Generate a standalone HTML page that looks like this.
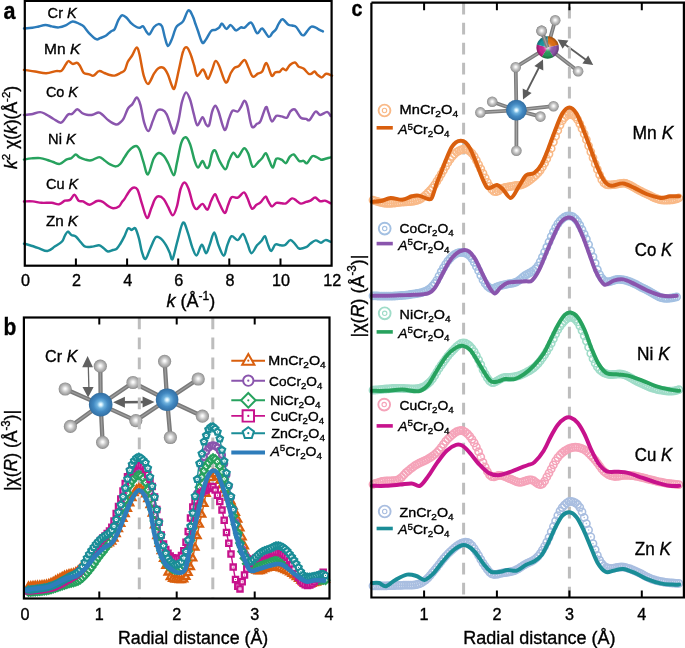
<!DOCTYPE html><html><head><meta charset="utf-8"><style>html,body{margin:0;padding:0;background:#fff;width:685px;height:648px;overflow:hidden}svg{display:block;will-change:transform}text{font-family:"Liberation Sans", sans-serif;fill:#000;stroke:#000;stroke-width:0.35px}</style></head><body>
<svg width="685" height="648" viewBox="0 0 685 648">
<defs>
<radialGradient id="gG" cx="0.5" cy="0.5" r="0.52" fx="0.5" fy="0.47">
 <stop offset="0" stop-color="#ffffff"/><stop offset="0.15" stop-color="#f4f4f4"/>
 <stop offset="0.5" stop-color="#c4c4c4"/><stop offset="0.8" stop-color="#a2a2a2"/><stop offset="1" stop-color="#808080"/></radialGradient>
<radialGradient id="gB" cx="0.5" cy="0.5" r="0.55">
 <stop offset="0" stop-color="#ffffff"/><stop offset="0.1" stop-color="#d8f3ff"/><stop offset="0.28" stop-color="#6fb2de"/>
 <stop offset="0.55" stop-color="#4289c2"/><stop offset="0.85" stop-color="#3573a8"/><stop offset="1" stop-color="#28608e"/></radialGradient>
<radialGradient id="gW" cx="0.5" cy="0.5" r="0.5">
 <stop offset="0" stop-color="#ffffff" stop-opacity="1"/><stop offset="0.1" stop-color="#ffffff" stop-opacity="0.7"/>
 <stop offset="0.35" stop-color="#ffffff" stop-opacity="0.1"/><stop offset="0.7" stop-color="#000" stop-opacity="0"/><stop offset="1" stop-color="#000" stop-opacity="0.3"/></radialGradient>
<marker id="ah" viewBox="0 0 10 10" refX="9" refY="5" markerWidth="10" markerHeight="10" markerUnits="userSpaceOnUse" orient="auto-start-reverse">
 <path d="M0 0L10 5L0 10z" fill="#5c5c5c"/></marker>
<path id="mt" d="M0 -3.7L3.4 2.3L-3.4 2.3Z"/>
<circle id="mc" r="2.9"/>
<path id="md" d="M0 -3.7L3.7 0L0 3.7L-3.7 0Z"/>
<path id="ms" d="M-2.6 -2.6H2.6V2.6H-2.6Z"/>
<path id="mp" d="M0 -3.3L3.14 -1.02L1.94 2.67L-1.94 2.67L-3.14 -1.02Z"/>
<circle id="mo" r="3.6"/>
</defs>
<rect width="685" height="648" fill="#fff"/>
<path d="M24 28.5C25.4 28.4 30 28.1 32.3 27.8C34.6 27.5 35.7 27.2 37.9 26.7C40.1 26.2 43.2 25.1 45.5 25C47.8 24.9 49.6 26 51.8 26.4C54 26.8 56.4 27.6 58.7 27.4C61 27.2 63.4 26.4 65.7 25.4C68 24.4 70.3 21.8 72.6 21.5C74.9 21.2 77.8 23.1 79.6 23.9C81.4 24.7 82.1 24.8 83.7 26.4C85.3 28 87.2 31.2 89.3 33.3C91.4 35.4 94.4 38.4 96.2 39.2C98 40 98.4 38.8 100 38.2C101.6 37.6 104 36.9 105.8 35.8C107.6 34.7 109.4 32.5 110.9 31.4C112.4 30.3 113.4 31 114.6 29.2C115.8 27.4 117 22.7 118.2 20.4C119.4 18.1 120.6 15.8 121.9 15.3C123.2 14.8 124.7 16.1 126.3 17.5C127.9 18.9 129.7 21.8 131.4 23.4C133.1 25 135.1 26.3 136.5 27C137.9 27.7 139 27.8 140.1 27.7C141.2 27.6 142 25.6 143.1 26.3C144.2 27 145.6 30.8 146.7 32.1C147.8 33.4 148.4 35.1 149.6 34.3C150.8 33.4 152.5 28.7 154 27C155.5 25.3 157.1 24.2 158.4 24.1C159.7 24 160.9 24 162 26.3C163.1 28.6 164 34.7 165 38C166 41.3 166.8 45.6 167.9 46C169 46.4 170.2 43.1 171.5 40.1C172.8 37.1 174.6 30.4 175.9 27.7C177.2 25 178.4 25.2 179.6 24.1C180.8 23 181.7 23.5 183.2 21.2C184.7 18.9 186.8 11.2 188.4 10.3C190 9.5 191.5 13.8 192.7 16.1C193.9 18.4 194.6 21.5 195.5 24C196.4 26.5 196.9 27.9 198 31C199.1 34.1 201 41.2 202.3 42.6C203.6 44 204.5 41.3 206 39.4C207.5 37.5 209.5 32.6 211.1 31C212.7 29.4 214.1 30.4 215.4 29.9C216.7 29.3 218 28.8 219.1 27.7C220.2 26.6 220.8 23.4 222 23.6C223.2 23.8 224.9 28.6 226.4 28.9C227.9 29.1 229.2 24.9 230.8 25.1C232.4 25.4 234.2 30 235.9 30.4C237.6 30.8 239.6 27.8 241 27.3C242.4 26.9 242.9 28.5 244.6 27.7C246.3 26.9 249.1 21.7 251.2 22.6C253.3 23.5 255.2 32.3 257 33.3C258.8 34.3 260.2 27.9 262.2 28.5C264.1 29.1 267 36.1 268.7 36.8C270.4 37.5 271.2 34.1 272.4 32.8C273.6 31.5 274.9 30.8 276 29.2C277.1 27.6 277.8 25 278.9 23.4C280 21.8 281 19.1 282.6 19.3C284.2 19.5 286.8 23.8 288.4 24.8C290 25.8 290.8 25.1 292.1 25.5C293.4 25.9 294.7 25.5 296.2 27C297.7 28.5 300 33 301.3 34.3C302.6 35.6 303 35.9 304.2 35C305.4 34.1 307.4 30.6 308.6 29.2C309.8 27.8 310.3 26.9 311.5 26.6C312.7 26.4 314.5 27.1 315.9 27.7C317.2 28.2 318.4 29.3 319.6 29.9C320.8 30.5 322.3 31.1 322.9 31.4" fill="none" stroke="#2b7bba" stroke-width="2.45" stroke-linejoin="round" stroke-linecap="round"/>
<path d="M24 69.9C25.9 70.2 31.4 70.9 35.1 71.5C38.8 72.1 42.7 73.4 46.2 73.3C49.7 73.2 53.5 71.5 56 71.1C58.5 70.7 59.9 71.9 61.5 70.8C63.1 69.7 64.5 66.2 65.7 64.6C66.9 63 67.2 61.2 68.4 61.1C69.6 61 71.2 63.6 72.6 63.9C74 64.2 75.6 62.6 76.8 62.8C78 63 78.4 63.6 79.6 65.3C80.8 67 82.1 71.4 83.7 72.9C85.3 74.4 87.7 73.8 89.3 74.3C90.9 74.8 91.8 76.2 93.4 75.7C95 75.2 97.2 71.5 99 71.1C100.8 70.6 102.8 72.4 104.4 73C106 73.6 107.1 74.3 108.8 74.7C110.5 75.1 112.7 75.9 114.6 75.6C116.5 75.3 118.7 73.9 120.4 73C122.1 72.1 123.6 71.9 124.8 70.1C126 68.3 126.5 64.4 127.7 62C128.9 59.6 130.6 57.9 132.1 55.5C133.6 53.1 135.3 47.9 136.5 47.6C137.7 47.4 138.2 49.3 139.4 54C140.6 58.7 142.3 70.9 143.8 75.9C145.3 80.9 146.5 84.3 148.2 83.9C149.9 83.5 152.3 76.3 154 73.7C155.7 71.1 156.8 69.3 158.4 68.3C160 67.3 161.9 66.9 163.5 67.9C165.1 68.9 166.6 71.7 167.9 74.5C169.2 77.3 170.4 82.4 171.5 84.7C172.6 87 173.3 90.7 174.5 88.3C175.7 85.9 177.4 76.3 178.8 70.1C180.2 63.9 181.8 54.9 183.2 51.1C184.5 47.3 185.7 46.9 186.9 47.4C188.1 47.9 189.3 51 190.5 54C191.7 57 193.1 62.1 194.2 65.7C195.3 69.4 195.8 75.2 197.2 75.9C198.5 76.6 201.1 70.5 202.3 69.8C203.5 69.1 203.5 70 204.5 71.5C205.5 73 206.8 79.3 208.1 78.8C209.4 78.3 211.3 71.6 212.5 68.6C213.7 65.6 214.3 61.5 215.4 61C216.5 60.5 217.4 62.1 219.1 65.7C220.8 69.3 223.8 81.3 225.7 82.5C227.6 83.7 229.4 75.4 230.8 73C232.2 70.6 233.1 69.1 234.4 67.9C235.7 66.7 237.1 67.3 238.8 66C240.5 64.7 242.9 59.8 244.5 60C246.1 60.2 246.9 64.4 248.3 67.2C249.7 70 251.1 75.5 252.7 76.6C254.3 77.7 256.2 74.5 257.8 73.7C259.4 72.9 260.8 73.3 262.2 71.5C263.6 69.7 264.9 62.4 266.5 63.1C268.1 63.8 270.1 74.1 271.6 75.6C273.1 77.1 274 72.9 275.3 72.3C276.6 71.7 278.5 72.4 279.7 71.8C280.9 71.2 281.5 68.9 282.6 68.6C283.7 68.3 285 70.7 286.2 70.1C287.4 69.5 288.4 66.3 289.9 65C291.4 63.7 293.6 62.3 295 62.5C296.4 62.7 297 65.4 298.4 66.4C299.8 67.4 301.8 67.4 303.5 68.6C305.2 69.8 307.3 72.8 308.6 73.7C309.9 74.6 310.5 74.1 311.5 73.7C312.5 73.3 313.5 71.3 314.5 71.5C315.5 71.7 316.2 73.7 317.4 74.7C318.6 75.7 320.4 77.6 321.8 77.4C323.2 77.2 324.4 74 326.1 73.7C327.8 73.4 331 75.3 332 75.6" fill="none" stroke="#d95f0e" stroke-width="2.45" stroke-linejoin="round" stroke-linecap="round"/>
<path d="M24 115C25.2 114.9 28.6 114.8 31.3 114.3C34 113.8 37.7 112.1 40.1 112.1C42.5 112.1 43.7 113.2 45.9 114.3C48.1 115.4 50.7 117.3 53.2 118.7C55.8 120.1 58.8 123.3 61.2 122.6C63.6 121.9 66 116.2 67.8 114.7C69.6 113.2 70.6 114.8 72.2 113.9C73.8 113 75.6 109.3 77.3 109.2C79 109.1 80.8 112.4 82.4 113.3C84 114.2 85.1 114.5 86.8 114.7C88.5 114.9 90.6 115.1 92.6 114.7C94.5 114.3 96.8 112.4 98.5 112.4C100.2 112.5 101.1 113.6 102.8 115C104.5 116.4 106.5 119 108.7 120.6C110.9 122.2 114 124.2 116 124.5C118 124.8 119.1 123.3 120.4 122.3C121.7 121.3 122.3 121 123.6 118.7C124.9 116.4 126.5 110.9 128 108.5C129.5 106.1 130.9 105.9 132.4 104.1C133.9 102.3 135.5 97.4 136.8 97.5C138.1 97.6 139.2 100.7 140.4 104.8C141.6 108.9 142.8 117.9 144.1 122.3C145.4 126.7 147.1 131.3 148.5 131.1C149.9 130.9 151.4 124.3 152.8 120.9C154.2 117.5 155.6 112.5 157.2 110.7C158.8 108.9 160.7 109.3 162.3 109.9C163.9 110.5 165.2 111.5 166.7 114.3C168.2 117.1 169.8 123.5 171.1 126.7C172.4 129.9 173.1 134.3 174.3 133.3C175.5 132.3 177.1 126.1 178.4 120.9C179.7 115.7 180.7 106.7 182 101.9C183.3 97.2 184.7 92.8 186 92.4C187.3 92 188.8 96.2 190.1 99.7C191.4 103.2 192.5 109.3 193.7 113.6C194.9 117.9 195.9 124.7 197.4 125.3C198.9 125.9 201.1 117.3 202.5 117.2C203.9 117.1 205 123.2 206.1 124.5C207.2 125.8 208.1 127.4 209.1 125.3C210.1 123.2 211 115.4 212 112.1C213 108.8 214.2 105.8 215.3 105.7C216.4 105.6 216.9 107.5 218.5 111.5C220.1 115.5 222.8 128.7 224.6 129.9C226.3 131.1 227.7 121.7 229 118.5C230.3 115.3 231 111.9 232.5 110.7C234 109.5 236.3 112.2 237.8 111.5C239.3 110.8 240.2 108.1 241.3 106.3C242.4 104.5 243.4 100.7 244.4 100.7C245.4 100.7 246.2 102 247.4 106.3C248.6 110.6 250.2 123.5 251.8 126.4C253.4 129.3 255.6 124.7 257 123.8C258.4 122.9 259 124 260.5 121.2C262 118.4 264.5 108.7 265.8 107.2C267.1 105.7 267.4 110 268.4 112.4C269.4 114.8 270.6 120.9 271.9 121.5C273.2 122.1 274.7 116.8 276.3 115.9C277.9 115.1 279.9 116.1 281.6 116.4C283.4 116.7 285.4 118.5 286.8 117.7C288.2 116.9 289 112.9 290.3 111.5C291.6 110.1 292.9 108.4 294.7 109.4C296.4 110.4 298.9 116.1 300.8 117.7C302.7 119.3 304.6 118.5 306.1 118.9C307.6 119.3 308 121.1 309.6 119.9C311.2 118.7 313.9 112.3 315.7 111.5C317.4 110.7 318.2 114.9 320.1 115C322 115.1 325.4 111.8 327.1 111.9C328.9 112.1 330 115.2 330.6 115.9" fill="none" stroke="#8a55ad" stroke-width="2.45" stroke-linejoin="round" stroke-linecap="round"/>
<path d="M24 159.6C25.2 159.4 28.6 158.7 31.3 158.4C34 158.2 37.4 157.8 40.1 158.1C42.8 158.4 45.2 159.3 47.4 160C49.6 160.7 51.1 161.3 53.2 162C55.3 162.7 57.6 164.3 59.8 163.9C62 163.5 64.4 160.6 66.3 159.6C68.2 158.6 69.8 158.9 71.4 158.1C73 157.2 74.5 154.6 75.8 154.5C77.1 154.4 77.9 156.6 79.5 157.4C81.1 158.2 83.3 159.1 85.3 159.6C87.2 160.1 88.9 160.7 91.2 160.3C93.5 159.9 97 157.1 99.2 157.1C101.4 157.1 102.5 159.1 104.3 160.3C106.1 161.5 108.1 163.4 110.1 164.4C112 165.4 114.3 166.5 116 166.4C117.7 166.3 118.8 165.5 120.2 164C121.6 162.5 122.9 159.7 124.4 157.4C126 155.1 127.5 152 129.5 150.1C131.4 148.2 134.4 146 136.1 146C137.8 146 138.5 147.5 139.7 150.1C140.9 152.7 142 157.7 143.4 161.8C144.8 165.9 146.2 175 147.9 174.5C149.6 174 151.8 162.4 153.6 158.8C155.4 155.2 157 153.5 158.7 153C160.4 152.5 162.2 154.2 163.8 155.9C165.4 157.6 166.5 160 168.2 163.2C169.9 166.4 172.4 175.3 173.8 175.3C175.2 175.3 175.7 168.4 176.9 163C178.2 157.6 179.8 147.1 181.3 142.8C182.8 138.5 184.2 137.1 185.7 137.3C187.2 137.5 188.6 140.4 190.1 144.2C191.6 148 193.2 156.4 194.5 160.3C195.8 164.2 196.8 167.5 198.1 167.6C199.4 167.7 201.2 161 202.5 161C203.8 161 205 166.8 206.1 167.6C207.2 168.4 208.1 168.4 209.1 166.1C210.1 163.8 211 156.3 212 153.7C213 151.1 214.1 149.3 215.3 150.5C216.5 151.7 217.7 157.5 219.4 160.6C221.1 163.7 223.9 169.3 225.5 169.3C227.1 169.3 227.7 163.4 229 160.6C230.3 157.8 231.9 153.3 233.4 152.7C234.9 152.1 236.1 157.8 237.8 157.1C239.6 156.4 242.2 148.9 243.9 148.3C245.7 147.7 246.8 150.5 248.3 153.6C249.8 156.7 250.9 165.4 252.7 166.7C254.4 168 257.2 162.9 258.8 161.5C260.4 160.1 261.1 159.4 262.3 158C263.5 156.6 264.6 152.8 265.8 153.2C267 153.6 268.1 158.2 269.3 160.6C270.5 163 271.6 167.9 272.8 167.6C274 167.3 274.8 160.1 276.3 158.8C277.8 157.5 280 159 281.6 159.7C283.2 160.4 284.7 163.6 286 163.2C287.3 162.8 288.2 158.5 289.5 157.1C290.8 155.7 292.2 153.9 293.8 154.5C295.4 155.1 297.5 159.8 299.1 160.9C300.7 162 302.2 160.5 303.5 160.9C304.8 161.3 305.6 164 307 163.2C308.4 162.4 310.6 157.2 312.2 156.2C313.8 155.2 315.1 156.5 316.6 157.1C318.1 157.7 319.5 159.4 321 159.7C322.5 160 323.8 159.2 325.4 158.8C327 158.4 329.7 157.6 330.6 157.4" fill="none" stroke="#27a25e" stroke-width="2.45" stroke-linejoin="round" stroke-linecap="round"/>
<path d="M24 201.4C25.5 201.4 29.9 201.2 32.8 201.4C35.7 201.6 38.4 202.6 41.5 202.8C44.6 203 48.8 202.6 51.7 202.8C54.6 203.1 56.8 204.7 59 204.3C61.2 204 63.1 201.4 64.9 200.7C66.7 200 68.4 200.9 70 199.9C71.6 198.9 73 194.7 74.4 194.8C75.9 194.9 77.2 199.6 78.7 200.7C80.2 201.8 81.3 200.7 83.1 201.4C84.9 202.1 87.4 204.8 89.7 204.7C92 204.6 94.8 201.5 97 201C99.2 200.5 101 201 102.8 201.8C104.6 202.6 106.2 204.7 107.9 205.8C109.6 206.9 111.2 208.1 113 208.2C114.8 208.3 117.4 207.5 118.9 206.5C120.4 205.5 121.1 203.2 122 202C122.9 200.8 123.3 200.9 124.4 199.2C125.5 197.5 127.4 193.8 128.8 191.9C130.2 190 131.7 188.2 133.1 187.8C134.5 187.4 136 187.1 137.5 189.7C139 192.3 140.3 198.9 141.9 203.6C143.5 208.3 145.4 217.2 147 217.9C148.6 218.6 150.1 211.1 151.4 208C152.7 204.9 153.8 201.1 155 199.2C156.2 197.2 157.2 196.3 158.7 196.3C160.2 196.3 162.2 197.4 163.8 199.2C165.4 201 166.7 204.5 168.2 207.2C169.7 209.9 171.4 215.4 172.8 215.3C174.2 215.2 175.6 210.9 176.9 206.5C178.2 202.1 179.3 193 180.6 189C181.9 185 183.2 182.4 184.5 182.4C185.8 182.4 187.2 185.3 188.6 189C190 192.7 191.7 201 193 204.3C194.3 207.7 195 209.2 196.6 209.1C198.2 209 200.7 203.8 202.5 203.9C204.3 204 205.9 210.2 207.3 209.7C208.8 209.2 209.9 203.3 211.2 200.7C212.5 198.1 213.9 194.2 215.1 194.3C216.3 194.4 216.9 198.4 218.5 201.5C220.1 204.6 223 212.3 224.6 212.9C226.2 213.5 226.9 207.6 228.1 205C229.3 202.4 230 198.4 231.6 197.2C233.2 196 235.8 198.5 237.8 197.7C239.9 196.9 242.3 192.3 243.9 192.4C245.5 192.5 246.1 195.3 247.4 198C248.7 200.7 250.3 207.3 251.8 208.5C253.3 209.7 254.8 206 256.2 205C257.6 204 258.9 203.8 260.5 202.4C262.1 201 264.2 196.8 265.5 196.6C266.8 196.4 267.3 199.9 268.4 201.5C269.5 203.1 270.6 206.2 271.9 206.4C273.2 206.6 274.7 203.4 276.3 202.9C277.9 202.4 280 203.2 281.6 203.3C283.2 203.4 284.2 204.1 286 203.3C287.8 202.5 290.4 198.8 292.1 198.4C293.9 198 295.1 199.8 296.5 200.7C297.9 201.6 299.2 203.4 300.8 203.6C302.4 203.8 304.5 202.4 306.1 201.9C307.7 201.4 309 201.4 310.5 200.7C312 200 313.6 197.4 315.2 197.5C316.8 197.6 318.4 200.7 320.1 201.2C321.8 201.7 323.6 200.3 325.4 200.7C327.1 201 329.7 202.9 330.6 203.3" fill="none" stroke="#c7128c" stroke-width="2.45" stroke-linejoin="round" stroke-linecap="round"/>
<path d="M24 243.7C25 243.9 27.4 244.5 29.8 245.2C32.2 245.9 35.7 247.1 38.6 248.1C41.5 249.1 44.7 251.2 47.4 251C50.1 250.8 52.3 248.2 54.7 246.6C57.1 245 60.3 243.3 62 241.5C63.7 239.7 63.9 237.3 64.9 235.7C65.9 234 66.7 231.7 67.8 231.6C68.9 231.5 70.1 234.2 71.4 235C72.7 235.8 74.2 235.2 75.8 236.4C77.4 237.6 79.3 240.6 80.9 242.3C82.5 244 83.3 245.9 85.3 246.6C87.2 247.3 90.3 246.8 92.6 246.6C94.9 246.4 97.4 244.9 99.2 245.2C101 245.4 102.1 247 103.6 248.1C105 249.2 106.3 251.2 107.9 251.5C109.5 251.8 111.5 250.4 113 250C114.5 249.6 115.5 249.8 116.7 248.8C117.9 247.8 118.9 246.1 120.2 244C121.5 241.9 123.1 239 124.4 236.4C125.7 233.8 126.8 229.5 128 228.4C129.2 227.3 130.5 229.9 131.7 229.9C132.9 229.9 134.1 227 135.3 228.4C136.5 229.8 137.9 234.7 139 238.6C140.1 242.5 140.8 248.4 141.9 251.8C143 255.2 144 259.7 145.5 259C147 258.3 149 251 150.7 247.4C152.4 243.8 154.1 238.7 155.8 237.2C157.5 235.7 159.2 237.3 160.9 238.6C162.6 239.9 164.6 242.9 166 245.2C167.4 247.5 168.5 250.2 169.6 252.5C170.7 254.8 171.2 261.1 172.6 259C173.9 256.9 175.9 246.2 177.7 240.1C179.4 234 181.4 223.8 183.1 222.6C184.8 221.4 186.4 228.7 187.9 232.8C189.4 236.9 190.9 243.6 192.3 247.4C193.8 251.2 195 255.9 196.6 255.4C198.2 254.9 200.2 245.1 201.8 244.7C203.4 244.3 204.8 253.2 206.1 253.2C207.4 253.2 208.5 247.9 209.8 244.5C211.2 241.1 212.8 232.4 214.2 232.5C215.6 232.6 216.9 241.4 218.5 245.3C220.1 249.2 222.3 255.8 223.8 255.8C225.3 255.8 226 248.6 227.3 245.3C228.6 242 229.8 237.1 231.6 236.2C233.3 235.3 235.9 240.5 237.8 240.1C239.7 239.7 241.4 233.3 243 233.9C244.6 234.5 246 240.4 247.4 243.6C248.8 246.8 249.8 252.9 251.4 253.2C253 253.5 255.3 247.3 257 245.3C258.7 243.3 260.1 242.5 261.4 241C262.7 239.5 263.9 235.8 264.9 236.2C265.9 236.6 266.6 241.1 267.6 243.6C268.6 246.1 269.8 250.8 271.1 250.9C272.4 251.1 273.8 245.4 275.4 244.5C277 243.6 279.1 245.2 280.7 245.3C282.3 245.4 283.5 245.9 285.1 245C286.7 244.1 288.7 240.3 290.3 240.1C291.9 239.9 293.2 242.2 294.7 243.6C296.2 245 297.2 247.9 299.1 248.5C301 249.1 304.2 247.9 306.1 247.1C308 246.3 308.9 244.7 310.5 243.6C312.1 242.5 313.9 240.6 315.7 240.4C317.4 240.2 319.4 242.8 321 242.7C322.6 242.6 323.8 240.2 325.4 240.1C327 239.9 329.7 241.5 330.6 241.8" fill="none" stroke="#1a8d97" stroke-width="2.45" stroke-linejoin="round" stroke-linecap="round"/>
<rect x="24.8" y="0.9" width="306.8" height="264.8" fill="none" stroke="#000" stroke-width="2.2"/>
<path d="M75.9 265.7V258.5M127.1 265.7V258.5M178.2 265.7V258.5M229.3 265.7V258.5M280.5 265.7V258.5" stroke="#000" stroke-width="2" fill="none"/>
<text x="25.4" y="286.3" font-size="16.2" text-anchor="middle">0</text>
<text x="76.5" y="286.3" font-size="16.2" text-anchor="middle">2</text>
<text x="127.7" y="286.3" font-size="16.2" text-anchor="middle">4</text>
<text x="178.8" y="286.3" font-size="16.2" text-anchor="middle">6</text>
<text x="229.9" y="286.3" font-size="16.2" text-anchor="middle">8</text>
<text x="281.1" y="286.3" font-size="16.2" text-anchor="middle">10</text>
<text x="332.2" y="286.3" font-size="16.2" text-anchor="middle">12</text>
<text x="166.5" y="306.5" font-size="18"><tspan font-style="italic">k</tspan> (Å<tspan font-size="12" dy="-7">-1</tspan><tspan dy="7">)</tspan></text>
<text transform="translate(17.3 169) rotate(-90)" font-size="17.5"><tspan font-style="italic">k</tspan><tspan font-size="11.5" dy="-7">2</tspan><tspan dy="7"> χ(</tspan><tspan font-style="italic">k</tspan>)(Å<tspan font-size="11.5" dy="-7">-2</tspan><tspan dy="7">)</tspan></text>
<text x="3.5" y="19.2" font-size="23.5" font-weight="bold" textLength="12" lengthAdjust="spacingAndGlyphs">a</text>
<text x="47.6" y="18.3" font-size="15" textLength="29.2" lengthAdjust="spacingAndGlyphs">Cr <tspan font-style="italic">K</tspan></text>
<text x="44.1" y="54.4" font-size="15" textLength="36.2" lengthAdjust="spacingAndGlyphs">Mn <tspan font-style="italic">K</tspan></text>
<text x="45.9" y="96.8" font-size="15" textLength="32.1" lengthAdjust="spacingAndGlyphs">Co <tspan font-style="italic">K</tspan></text>
<text x="48.1" y="144.2" font-size="15" textLength="27.7" lengthAdjust="spacingAndGlyphs">Ni <tspan font-style="italic">K</tspan></text>
<text x="45.9" y="189.4" font-size="15" textLength="32.4" lengthAdjust="spacingAndGlyphs">Cu <tspan font-style="italic">K</tspan></text>
<text x="45.9" y="225.8" font-size="15" textLength="32.1" lengthAdjust="spacingAndGlyphs">Zn <tspan font-style="italic">K</tspan></text>
<path d="M100.7 404.6L100.3 366.2M100.7 404.6L65.2 389M100.7 404.6L133 382.5M100.7 404.6L135.8 420.6M100.7 404.6L70.4 426.4M100.7 404.6L102.6 442.3M167.1 399.8L133 382.5M167.1 399.8L135.8 420.6M167.1 399.8L164.6 361.3M167.1 399.8L198.2 379M167.1 399.8L202.4 416.2M167.1 399.8L170.4 437.5" stroke="#7a7a7a" stroke-width="4.3" fill="none"/>
<path d="M100.7 404.6L100.3 366.2M100.7 404.6L65.2 389M100.7 404.6L133 382.5M100.7 404.6L135.8 420.6M100.7 404.6L70.4 426.4M100.7 404.6L102.6 442.3M167.1 399.8L133 382.5M167.1 399.8L135.8 420.6M167.1 399.8L164.6 361.3M167.1 399.8L198.2 379M167.1 399.8L202.4 416.2M167.1 399.8L170.4 437.5" stroke="#9c9c9c" stroke-width="1.3" fill="none"/>
<circle cx="170.4" cy="437.5" r="6.6" fill="url(#gG)"/>
<circle cx="135.8" cy="420.6" r="6.6" fill="url(#gG)"/>
<circle cx="70.4" cy="426.4" r="6.6" fill="url(#gG)"/>
<circle cx="164.6" cy="361.3" r="6.6" fill="url(#gG)"/>
<circle cx="133" cy="382.5" r="6.6" fill="url(#gG)"/>
<circle cx="100.3" cy="366.2" r="6.6" fill="url(#gG)"/>
<circle cx="202.4" cy="416.2" r="6.6" fill="url(#gG)"/>
<circle cx="198.2" cy="379" r="6.6" fill="url(#gG)"/>
<circle cx="102.6" cy="442.3" r="6.6" fill="url(#gG)"/>
<circle cx="65.2" cy="389" r="6.6" fill="url(#gG)"/>
<circle cx="100.7" cy="404.6" r="11.8" fill="url(#gB)"/>
<circle cx="167.1" cy="399.8" r="11.3" fill="url(#gB)"/>
<line x1="88.3" y1="366" x2="88.9" y2="388" stroke="#666" stroke-width="1.3"/>
<path d="M87.6 356L93 367.3L82.2 367.3Z M88.1 397.4L93.6 387L82.5 387Z" fill="#616161"/>
<line x1="122" y1="402.2" x2="146" y2="402.1" stroke="#5f5f5f" stroke-width="2.5"/>
<path d="M113.1 402.2L124.9 396.7L124.9 407.7Z M154.5 402.1L142.6 396.6L142.6 407.6Z" fill="#5f5f5f"/>
<text x="45.1" y="361.5" font-size="17.2" textLength="32.3" lengthAdjust="spacingAndGlyphs">Cr <tspan font-style="italic">K</tspan></text>
<line x1="139.3" y1="317.5" x2="139.3" y2="598.5" stroke="#bdbdbd" stroke-width="3" stroke-dasharray="11.7 8.3"/>
<line x1="212.8" y1="317.5" x2="212.8" y2="598.5" stroke="#bdbdbd" stroke-width="3" stroke-dasharray="11.7 8.3"/>
<path d="M26 586.5C27.7 586.3 32.3 585.9 36 585.5C39.7 585.1 44.3 585.1 48 584C51.7 582.9 55 580.5 58 579C61 577.5 63 576.2 66 575C69 573.8 73.2 573.7 76 572C78.8 570.3 81 567.5 83 565C85 562.5 86 559.5 88 557C90 554.5 92.3 551.8 95 550C97.7 548.2 101.2 547.5 104 546C106.8 544.5 109.8 543.5 112 541C114.2 538.5 115.8 534.5 117.5 531C119.2 527.5 120.8 523.3 122.3 520C123.8 516.7 124.8 514.8 126.5 511C128.2 507.2 130.8 500.5 132.3 497C133.9 493.5 134.7 491.5 135.8 490C136.9 488.5 137.9 488 139 488C140.1 488 141.2 488.7 142.5 490C143.8 491.3 145 492.7 146.5 496C148 499.3 149.9 503.7 151.5 510C153.1 516.3 154.7 527.3 156.3 534C157.9 540.7 159.7 545.7 161 550C162.3 554.3 162.5 555.6 164 560C165.5 564.4 167.8 573.2 170.1 576.5C172.4 579.8 175.5 579.1 177.8 579.5C180.1 579.9 182.2 580.1 184 578.8C185.8 577.5 187.3 574.5 188.6 571.8C189.9 569.1 190.8 565.9 191.7 562.6C192.6 559.3 193.2 555.4 194 551.8C194.8 548.2 195.5 544.9 196.3 541C197.1 537.1 197.8 532.5 198.6 528.6C199.4 524.7 200.2 521.4 201 517.8C201.8 514.2 202.5 510.6 203.3 507C204.1 503.4 204.7 499.9 205.6 496.2C206.5 492.5 207.6 488.2 208.5 485C209.4 481.8 210.2 479 211 477C211.8 475 212.5 473.2 213.5 473C214.5 472.8 215.8 474.5 217 476C218.2 477.5 219.3 479.8 220.5 482C221.7 484.2 222.8 486.7 224 489C225.2 491.3 226.8 494 228 496C229.2 498 230.1 499.2 231 501C231.9 502.8 232.7 504.8 233.5 507C234.3 509.2 235.2 511.5 236 514C236.8 516.5 237.8 519.3 238.5 522C239.2 524.7 239.8 527.3 240.5 530C241.2 532.7 241.8 535.3 242.5 538C243.2 540.7 243.8 543.3 244.5 546C245.2 548.7 245.8 551.5 246.5 554C247.2 556.5 247.8 558.8 248.5 561C249.2 563.2 249.9 565.5 251 567C252.1 568.5 253.5 569.3 255 570C256.5 570.7 258 571.3 260 571C262 570.7 264.3 568.7 267 568C269.7 567.3 273.3 566.8 276 567C278.7 567.2 280.5 568 283 569C285.5 570 288.3 571.3 291 573C293.7 574.7 296.5 577.2 299 579C301.5 580.8 303.5 583.3 306 584C308.5 584.7 311.3 583.7 314 583C316.7 582.3 319.8 580.7 322 580C324.2 579.3 326.2 579.2 327 579" fill="none" stroke="#d95f0e" stroke-width="1.4"/>
<g fill="#fff" stroke="#d95f0e" stroke-width="2.3"><use href="#mt" x="28.5" y="586.3"/><use href="#mt" x="30.8" y="586"/><use href="#mt" x="33" y="585.8"/><use href="#mt" x="35.2" y="585.6"/><use href="#mt" x="37.5" y="585.4"/><use href="#mt" x="39.8" y="585.2"/><use href="#mt" x="42" y="585"/><use href="#mt" x="44.2" y="584.8"/><use href="#mt" x="46.5" y="584.4"/><use href="#mt" x="48.8" y="583.8"/><use href="#mt" x="51" y="582.8"/><use href="#mt" x="53.2" y="581.7"/><use href="#mt" x="55.5" y="580.4"/><use href="#mt" x="57.8" y="579.1"/><use href="#mt" x="60" y="578"/><use href="#mt" x="62.2" y="576.7"/><use href="#mt" x="64.5" y="575.6"/><use href="#mt" x="66.8" y="574.7"/><use href="#mt" x="69" y="574.1"/><use href="#mt" x="71.2" y="573.6"/><use href="#mt" x="73.5" y="573.1"/><use href="#mt" x="75.8" y="572.1"/><use href="#mt" x="78" y="570.6"/><use href="#mt" x="80.2" y="568.3"/><use href="#mt" x="82.5" y="565.6"/><use href="#mt" x="84.8" y="562.4"/><use href="#mt" x="87" y="558.4"/><use href="#mt" x="89.2" y="555.5"/><use href="#mt" x="91.5" y="553"/><use href="#mt" x="93.8" y="550.9"/><use href="#mt" x="96" y="549.4"/><use href="#mt" x="98.2" y="548.3"/><use href="#mt" x="100.5" y="547.5"/><use href="#mt" x="102.8" y="546.6"/><use href="#mt" x="105" y="545.5"/><use href="#mt" x="107.2" y="544.4"/><use href="#mt" x="109.5" y="543.1"/><use href="#mt" x="111.8" y="541.3"/><use href="#mt" x="114" y="538.2"/><use href="#mt" x="116.2" y="533.7"/><use href="#mt" x="118.5" y="528.9"/><use href="#mt" x="120.8" y="523.6"/><use href="#mt" x="123" y="518.5"/><use href="#mt" x="125.2" y="513.8"/><use href="#mt" x="127.5" y="508.6"/><use href="#mt" x="129.8" y="503.1"/><use href="#mt" x="132" y="497.7"/><use href="#mt" x="134.2" y="492.7"/><use href="#mt" x="136.5" y="489.2"/><use href="#mt" x="138.8" y="488"/><use href="#mt" x="141" y="488.7"/><use href="#mt" x="143.2" y="490.8"/><use href="#mt" x="145.5" y="494"/><use href="#mt" x="147.8" y="498.9"/><use href="#mt" x="150" y="504.9"/><use href="#mt" x="152.2" y="513.2"/><use href="#mt" x="154.5" y="525.1"/><use href="#mt" x="156.8" y="535.8"/><use href="#mt" x="159" y="543.6"/><use href="#mt" x="161.2" y="550.9"/><use href="#mt" x="163.5" y="558.5"/><use href="#mt" x="165.8" y="565.5"/><use href="#mt" x="168" y="572.2"/><use href="#mt" x="170.2" y="576.7"/><use href="#mt" x="172.5" y="578.6"/><use href="#mt" x="174.8" y="579.2"/><use href="#mt" x="177" y="579.4"/><use href="#mt" x="179.2" y="579.7"/><use href="#mt" x="181.5" y="579.7"/><use href="#mt" x="183.8" y="579"/><use href="#mt" x="186" y="576.6"/><use href="#mt" x="188.2" y="572.5"/><use href="#mt" x="190.5" y="566.8"/><use href="#mt" x="192.8" y="558"/><use href="#mt" x="195" y="547.2"/><use href="#mt" x="197.2" y="535.9"/><use href="#mt" x="199.5" y="524.4"/><use href="#mt" x="201.8" y="514.3"/><use href="#mt" x="204" y="503.6"/><use href="#mt" x="206.2" y="493.5"/><use href="#mt" x="208.5" y="485"/><use href="#mt" x="210.8" y="477.6"/><use href="#mt" x="213" y="473.2"/><use href="#mt" x="215.2" y="473.9"/><use href="#mt" x="217.5" y="476.7"/><use href="#mt" x="219.8" y="480.6"/><use href="#mt" x="222" y="485"/><use href="#mt" x="224.2" y="489.5"/><use href="#mt" x="226.5" y="493.4"/><use href="#mt" x="228.8" y="497.2"/><use href="#mt" x="231" y="501"/><use href="#mt" x="233.2" y="506.3"/><use href="#mt" x="235.5" y="512.5"/><use href="#mt" x="237.8" y="519.4"/><use href="#mt" x="240" y="528"/><use href="#mt" x="242.2" y="537"/><use href="#mt" x="244.5" y="546"/><use href="#mt" x="246.8" y="554.9"/><use href="#mt" x="249" y="562.5"/><use href="#mt" x="251.2" y="567.3"/><use href="#mt" x="253.5" y="569.2"/><use href="#mt" x="255.8" y="570.3"/><use href="#mt" x="258" y="571"/><use href="#mt" x="260.2" y="570.9"/><use href="#mt" x="262.5" y="570"/><use href="#mt" x="264.8" y="568.9"/><use href="#mt" x="267" y="568"/><use href="#mt" x="269.2" y="567.5"/><use href="#mt" x="271.5" y="567.2"/><use href="#mt" x="273.8" y="567"/><use href="#mt" x="276" y="567"/><use href="#mt" x="278.2" y="567.3"/><use href="#mt" x="280.5" y="568"/><use href="#mt" x="282.8" y="568.9"/><use href="#mt" x="285" y="569.8"/><use href="#mt" x="287.2" y="570.9"/><use href="#mt" x="289.5" y="572.1"/><use href="#mt" x="291.8" y="573.5"/><use href="#mt" x="294" y="575.1"/><use href="#mt" x="296.2" y="576.9"/><use href="#mt" x="298.5" y="578.6"/><use href="#mt" x="300.8" y="580.4"/><use href="#mt" x="303" y="582.3"/><use href="#mt" x="305.2" y="583.7"/><use href="#mt" x="307.5" y="584.2"/><use href="#mt" x="309.8" y="584"/><use href="#mt" x="312" y="583.5"/><use href="#mt" x="314.2" y="582.9"/><use href="#mt" x="316.5" y="582.2"/><use href="#mt" x="318.8" y="581.3"/><use href="#mt" x="321" y="580.3"/><use href="#mt" x="323.2" y="579.7"/><use href="#mt" x="325.5" y="579.2"/></g>
<path d="M28.5 586.3h0.01M30.8 586h0.01M33 585.8h0.01M35.2 585.6h0.01M37.5 585.4h0.01M39.8 585.2h0.01M42 585h0.01M44.2 584.8h0.01M46.5 584.4h0.01M48.8 583.8h0.01M51 582.8h0.01M53.2 581.7h0.01M55.5 580.4h0.01M57.8 579.1h0.01M60 578h0.01M62.2 576.7h0.01M64.5 575.6h0.01M66.8 574.7h0.01M69 574.1h0.01M71.2 573.6h0.01M73.5 573.1h0.01M75.8 572.1h0.01M78 570.6h0.01M80.2 568.3h0.01M82.5 565.6h0.01M84.8 562.4h0.01M87 558.4h0.01M89.2 555.5h0.01M91.5 553h0.01M93.8 550.9h0.01M96 549.4h0.01M98.2 548.3h0.01M100.5 547.5h0.01M102.8 546.6h0.01M105 545.5h0.01M107.2 544.4h0.01M109.5 543.1h0.01M111.8 541.3h0.01M114 538.2h0.01M116.2 533.7h0.01M118.5 528.9h0.01M120.8 523.6h0.01M123 518.5h0.01M125.2 513.8h0.01M127.5 508.6h0.01M129.8 503.1h0.01M132 497.7h0.01M134.2 492.7h0.01M136.5 489.2h0.01M138.8 488h0.01M141 488.7h0.01M143.2 490.8h0.01M145.5 494h0.01M147.8 498.9h0.01M150 504.9h0.01M152.2 513.2h0.01M154.5 525.1h0.01M156.8 535.8h0.01M159 543.6h0.01M161.2 550.9h0.01M163.5 558.5h0.01M165.8 565.5h0.01M168 572.2h0.01M170.2 576.7h0.01M172.5 578.6h0.01M174.8 579.2h0.01M177 579.4h0.01M179.2 579.7h0.01M181.5 579.7h0.01M183.8 579h0.01M186 576.6h0.01M188.2 572.5h0.01M190.5 566.8h0.01M192.8 558h0.01M195 547.2h0.01M197.2 535.9h0.01M199.5 524.4h0.01M201.8 514.3h0.01M204 503.6h0.01M206.2 493.5h0.01M208.5 485h0.01M210.8 477.6h0.01M213 473.2h0.01M215.2 473.9h0.01M217.5 476.7h0.01M219.8 480.6h0.01M222 485h0.01M224.2 489.5h0.01M226.5 493.4h0.01M228.8 497.2h0.01M231 501h0.01M233.2 506.3h0.01M235.5 512.5h0.01M237.8 519.4h0.01M240 528h0.01M242.2 537h0.01M244.5 546h0.01M246.8 554.9h0.01M249 562.5h0.01M251.2 567.3h0.01M253.5 569.2h0.01M255.8 570.3h0.01M258 571h0.01M260.2 570.9h0.01M262.5 570h0.01M264.8 568.9h0.01M267 568h0.01M269.2 567.5h0.01M271.5 567.2h0.01M273.8 567h0.01M276 567h0.01M278.2 567.3h0.01M280.5 568h0.01M282.8 568.9h0.01M285 569.8h0.01M287.2 570.9h0.01M289.5 572.1h0.01M291.8 573.5h0.01M294 575.1h0.01M296.2 576.9h0.01M298.5 578.6h0.01M300.8 580.4h0.01M303 582.3h0.01M305.2 583.7h0.01M307.5 584.2h0.01M309.8 584h0.01M312 583.5h0.01M314.2 582.9h0.01M316.5 582.2h0.01M318.8 581.3h0.01M321 580.3h0.01M323.2 579.7h0.01M325.5 579.2h0.01" stroke="#d95f0e" stroke-width="1.2" stroke-linecap="round"/>
<path d="M26 592C29.7 591.5 41.2 590.5 48 589C54.8 587.5 61.7 585 67 583C72.3 581 76.3 579.7 80 577C83.7 574.3 86 570.7 89 567C92 563.3 95.3 558.3 98 555C100.7 551.7 103.2 549.2 105 547C106.8 544.8 107.7 544 109 542C110.3 540 111.8 537.7 113 535C114.2 532.3 115.3 529.3 116.5 526C117.7 522.7 118.8 519.2 120 515C121.2 510.8 122.8 505.3 124 501C125.2 496.7 126.4 492.7 127.5 489C128.6 485.3 129.3 481.8 130.5 479C131.7 476.2 133.1 473.5 134.5 472C135.9 470.5 137.6 470 139 470C140.4 470 141.7 470.3 143 472C144.3 473.7 145.7 475.8 147 480C148.3 484.2 149.8 491.7 151 497C152.2 502.3 153 507 154 512C155 517 156 522.3 157 527C158 531.7 158.8 535.8 160 540C161.2 544.2 162.5 548.5 164 552C165.5 555.5 167.2 558.7 169 561C170.8 563.3 173 565.2 175 566C177 566.8 179.2 567.2 181 566C182.8 564.8 184.2 562.2 185.5 559C186.8 555.8 187.5 551.7 188.5 547C189.5 542.3 190.5 536.8 191.5 531C192.5 525.2 193.5 518.5 194.5 512C195.5 505.5 196.5 498.5 197.5 492C198.5 485.5 199.5 478.5 200.5 473C201.5 467.5 202.4 462.8 203.5 459C204.6 455.2 205.8 452.2 207 450C208.2 447.8 209.3 446.8 210.5 446C211.7 445.2 212.8 445.2 214 445.5C215.2 445.8 216.7 446.4 218 448C219.3 449.6 220.8 451.8 222 455C223.2 458.2 224.1 462.8 225 467C225.9 471.2 226.7 475.8 227.5 480C228.3 484.2 229.2 487.8 230 492C230.8 496.2 231.8 500.8 232.5 505C233.2 509.2 233.8 512.8 234.5 517C235.2 521.2 236.1 525.7 237 530C237.9 534.3 238.8 539.2 240 543C241.2 546.8 242.5 550.2 244 553C245.5 555.8 247.8 558.8 249 560C250.2 561.2 249.5 560 251 560C252.5 560 255.5 560.7 258 560C260.5 559.3 263.3 557.2 266 556C268.7 554.8 271.5 553.5 274 553C276.5 552.5 278.7 552.5 281 553C283.3 553.5 285.5 553.8 288 556C290.5 558.2 293.3 562.5 296 566C298.7 569.5 301 575 304 577C307 579 311 578 314 578C317 578 319.8 577 322 577C324.2 577 326.2 577.8 327 578" fill="none" stroke="#8a55ad" stroke-width="1.4"/>
<g fill="#fff" stroke="#8a55ad" stroke-width="2.3"><use href="#mc" x="28.5" y="591.7"/><use href="#mc" x="30.8" y="591.5"/><use href="#mc" x="33" y="591.2"/><use href="#mc" x="35.2" y="590.9"/><use href="#mc" x="37.5" y="590.7"/><use href="#mc" x="39.8" y="590.4"/><use href="#mc" x="42" y="590.1"/><use href="#mc" x="44.2" y="589.7"/><use href="#mc" x="46.5" y="589.3"/><use href="#mc" x="48.8" y="588.8"/><use href="#mc" x="51" y="588.3"/><use href="#mc" x="53.2" y="587.7"/><use href="#mc" x="55.5" y="587"/><use href="#mc" x="57.8" y="586.3"/><use href="#mc" x="60" y="585.5"/><use href="#mc" x="62.2" y="584.7"/><use href="#mc" x="64.5" y="583.9"/><use href="#mc" x="66.8" y="583.1"/><use href="#mc" x="69" y="582.3"/><use href="#mc" x="71.2" y="581.4"/><use href="#mc" x="73.5" y="580.5"/><use href="#mc" x="75.8" y="579.5"/><use href="#mc" x="78" y="578.3"/><use href="#mc" x="80.2" y="576.8"/><use href="#mc" x="82.5" y="574.9"/><use href="#mc" x="84.8" y="572.4"/><use href="#mc" x="87" y="569.5"/><use href="#mc" x="89.2" y="566.7"/><use href="#mc" x="91.5" y="563.8"/><use href="#mc" x="93.8" y="560.7"/><use href="#mc" x="96" y="557.6"/><use href="#mc" x="98.2" y="554.7"/><use href="#mc" x="100.5" y="552"/><use href="#mc" x="102.8" y="549.5"/><use href="#mc" x="105" y="547"/><use href="#mc" x="107.2" y="544.4"/><use href="#mc" x="109.5" y="541.2"/><use href="#mc" x="111.8" y="537.5"/><use href="#mc" x="114" y="532.7"/><use href="#mc" x="116.2" y="526.7"/><use href="#mc" x="118.5" y="519.9"/><use href="#mc" x="120.8" y="512.4"/><use href="#mc" x="123" y="504.5"/><use href="#mc" x="125.2" y="496.7"/><use href="#mc" x="127.5" y="489"/><use href="#mc" x="129.8" y="481.1"/><use href="#mc" x="132" y="475.8"/><use href="#mc" x="134.2" y="472.3"/><use href="#mc" x="136.5" y="470.5"/><use href="#mc" x="138.8" y="470"/><use href="#mc" x="141" y="470.4"/><use href="#mc" x="143.2" y="472.3"/><use href="#mc" x="145.5" y="476.1"/><use href="#mc" x="147.8" y="482.6"/><use href="#mc" x="150" y="492.4"/><use href="#mc" x="152.2" y="503"/><use href="#mc" x="154.5" y="514.5"/><use href="#mc" x="156.8" y="525.8"/><use href="#mc" x="159" y="536.1"/><use href="#mc" x="161.2" y="544.3"/><use href="#mc" x="163.5" y="550.8"/><use href="#mc" x="165.8" y="555.8"/><use href="#mc" x="168" y="559.6"/><use href="#mc" x="170.2" y="562.5"/><use href="#mc" x="172.5" y="564.5"/><use href="#mc" x="174.8" y="565.9"/><use href="#mc" x="177" y="566.6"/><use href="#mc" x="179.2" y="566.7"/><use href="#mc" x="181.5" y="565.6"/><use href="#mc" x="183.8" y="562.7"/><use href="#mc" x="186" y="557.6"/><use href="#mc" x="188.2" y="548.2"/><use href="#mc" x="190.5" y="536.7"/><use href="#mc" x="192.8" y="523.3"/><use href="#mc" x="195" y="508.7"/><use href="#mc" x="197.2" y="493.6"/><use href="#mc" x="199.5" y="478.9"/><use href="#mc" x="201.8" y="466.4"/><use href="#mc" x="204" y="457.3"/><use href="#mc" x="206.2" y="451.5"/><use href="#mc" x="208.5" y="447.8"/><use href="#mc" x="210.8" y="445.8"/><use href="#mc" x="213" y="445.3"/><use href="#mc" x="215.2" y="445.9"/><use href="#mc" x="217.5" y="447.5"/><use href="#mc" x="219.8" y="450.4"/><use href="#mc" x="222" y="455"/><use href="#mc" x="224.2" y="463.5"/><use href="#mc" x="226.5" y="474.7"/><use href="#mc" x="228.8" y="486"/><use href="#mc" x="231" y="497.1"/><use href="#mc" x="233.2" y="509.4"/><use href="#mc" x="235.5" y="522.4"/><use href="#mc" x="237.8" y="533.6"/><use href="#mc" x="240" y="543"/><use href="#mc" x="242.2" y="549.3"/><use href="#mc" x="244.5" y="553.9"/><use href="#mc" x="246.8" y="557.3"/><use href="#mc" x="249" y="560"/><use href="#mc" x="251.2" y="560"/><use href="#mc" x="253.5" y="560.2"/><use href="#mc" x="255.8" y="560.3"/><use href="#mc" x="258" y="560"/><use href="#mc" x="260.2" y="559.1"/><use href="#mc" x="262.5" y="557.9"/><use href="#mc" x="264.8" y="556.6"/><use href="#mc" x="267" y="555.6"/><use href="#mc" x="269.2" y="554.6"/><use href="#mc" x="271.5" y="553.7"/><use href="#mc" x="273.8" y="553.1"/><use href="#mc" x="276" y="552.7"/><use href="#mc" x="278.2" y="552.6"/><use href="#mc" x="280.5" y="552.9"/><use href="#mc" x="282.8" y="553.4"/><use href="#mc" x="285" y="554.1"/><use href="#mc" x="287.2" y="555.4"/><use href="#mc" x="289.5" y="557.5"/><use href="#mc" x="291.8" y="560.3"/><use href="#mc" x="294" y="563.3"/><use href="#mc" x="296.2" y="566.3"/><use href="#mc" x="298.5" y="569.8"/><use href="#mc" x="300.8" y="573.4"/><use href="#mc" x="303" y="576.2"/><use href="#mc" x="305.2" y="577.6"/><use href="#mc" x="307.5" y="578.2"/><use href="#mc" x="309.8" y="578.2"/><use href="#mc" x="312" y="578.1"/><use href="#mc" x="314.2" y="578"/><use href="#mc" x="316.5" y="577.8"/><use href="#mc" x="318.8" y="577.4"/><use href="#mc" x="321" y="577.1"/><use href="#mc" x="323.2" y="577.1"/><use href="#mc" x="325.5" y="577.6"/></g>
<path d="M28.5 591.7h0.01M30.8 591.5h0.01M33 591.2h0.01M35.2 590.9h0.01M37.5 590.7h0.01M39.8 590.4h0.01M42 590.1h0.01M44.2 589.7h0.01M46.5 589.3h0.01M48.8 588.8h0.01M51 588.3h0.01M53.2 587.7h0.01M55.5 587h0.01M57.8 586.3h0.01M60 585.5h0.01M62.2 584.7h0.01M64.5 583.9h0.01M66.8 583.1h0.01M69 582.3h0.01M71.2 581.4h0.01M73.5 580.5h0.01M75.8 579.5h0.01M78 578.3h0.01M80.2 576.8h0.01M82.5 574.9h0.01M84.8 572.4h0.01M87 569.5h0.01M89.2 566.7h0.01M91.5 563.8h0.01M93.8 560.7h0.01M96 557.6h0.01M98.2 554.7h0.01M100.5 552h0.01M102.8 549.5h0.01M105 547h0.01M107.2 544.4h0.01M109.5 541.2h0.01M111.8 537.5h0.01M114 532.7h0.01M116.2 526.7h0.01M118.5 519.9h0.01M120.8 512.4h0.01M123 504.5h0.01M125.2 496.7h0.01M127.5 489h0.01M129.8 481.1h0.01M132 475.8h0.01M134.2 472.3h0.01M136.5 470.5h0.01M138.8 470h0.01M141 470.4h0.01M143.2 472.3h0.01M145.5 476.1h0.01M147.8 482.6h0.01M150 492.4h0.01M152.2 503h0.01M154.5 514.5h0.01M156.8 525.8h0.01M159 536.1h0.01M161.2 544.3h0.01M163.5 550.8h0.01M165.8 555.8h0.01M168 559.6h0.01M170.2 562.5h0.01M172.5 564.5h0.01M174.8 565.9h0.01M177 566.6h0.01M179.2 566.7h0.01M181.5 565.6h0.01M183.8 562.7h0.01M186 557.6h0.01M188.2 548.2h0.01M190.5 536.7h0.01M192.8 523.3h0.01M195 508.7h0.01M197.2 493.6h0.01M199.5 478.9h0.01M201.8 466.4h0.01M204 457.3h0.01M206.2 451.5h0.01M208.5 447.8h0.01M210.8 445.8h0.01M213 445.3h0.01M215.2 445.9h0.01M217.5 447.5h0.01M219.8 450.4h0.01M222 455h0.01M224.2 463.5h0.01M226.5 474.7h0.01M228.8 486h0.01M231 497.1h0.01M233.2 509.4h0.01M235.5 522.4h0.01M237.8 533.6h0.01M240 543h0.01M242.2 549.3h0.01M244.5 553.9h0.01M246.8 557.3h0.01M249 560h0.01M251.2 560h0.01M253.5 560.2h0.01M255.8 560.3h0.01M258 560h0.01M260.2 559.1h0.01M262.5 557.9h0.01M264.8 556.6h0.01M267 555.6h0.01M269.2 554.6h0.01M271.5 553.7h0.01M273.8 553.1h0.01M276 552.7h0.01M278.2 552.6h0.01M280.5 552.9h0.01M282.8 553.4h0.01M285 554.1h0.01M287.2 555.4h0.01M289.5 557.5h0.01M291.8 560.3h0.01M294 563.3h0.01M296.2 566.3h0.01M298.5 569.8h0.01M300.8 573.4h0.01M303 576.2h0.01M305.2 577.6h0.01M307.5 578.2h0.01M309.8 578.2h0.01M312 578.1h0.01M314.2 578h0.01M316.5 577.8h0.01M318.8 577.4h0.01M321 577.1h0.01M323.2 577.1h0.01M325.5 577.6h0.01" stroke="#8a55ad" stroke-width="1.2" stroke-linecap="round"/>
<path d="M26 592C27.7 591.9 32.2 591.8 36 591.5C39.8 591.2 45 590.8 48.7 590C52.4 589.2 54.9 588 58 587C61.1 586 63.6 585.2 67.2 584C70.8 582.8 75.9 582.3 79.6 580C83.3 577.7 86.3 573.7 89.4 570C92.5 566.3 95.4 561.5 98 558C100.6 554.5 103.2 551.5 105 549C106.8 546.5 107.6 545.2 109 543C110.4 540.8 112 538.7 113.3 536C114.5 533.3 115.3 530.2 116.5 527C117.7 523.8 119 520.7 120.3 516.7C121.6 512.7 123.2 506.8 124.4 502.8C125.6 498.9 126.6 496 127.5 493C128.4 490 128.8 487.3 130 484.7C131.2 482.1 133 479.1 134.5 477.5C136 475.9 137.6 474.9 139 475C140.4 475.1 141.7 476.2 143 478C144.3 479.8 145.4 481.9 146.7 486C148 490.1 149.7 497.7 150.8 502.8C152 507.9 152.7 512.3 153.6 516.7C154.5 521.1 155.4 525 156.2 529C157 533 157.5 537 158.5 541C159.5 545 160.8 549.3 162 553C163.2 556.7 164.5 560.5 166 563C167.5 565.5 169.3 566.8 171 568C172.7 569.2 174.3 569.8 176 570C177.7 570.2 179.4 570.3 181 569C182.6 567.7 184.2 565.2 185.5 562C186.8 558.8 187.5 554.5 188.5 550C189.5 545.5 190.5 540.3 191.5 535C192.5 529.7 193.5 523.8 194.5 518C195.5 512.2 196.5 506 197.5 500C198.5 494 199.4 487 200.5 482C201.6 477 202.8 473.5 204.3 470C205.9 466.5 208.4 463 209.8 461C211.2 459 211.8 458 213 458C214.2 458 215.8 459.3 217 461C218.2 462.7 219.4 465.3 220.5 468C221.6 470.7 222.7 473.7 223.7 477C224.7 480.3 225.5 484.2 226.5 488C227.5 491.8 228.4 495.5 229.5 500C230.6 504.5 231.8 510 233 515C234.2 520 235.8 525 237 530C238.2 535 239.3 540.5 240.5 545C241.7 549.5 242.7 553.5 244 557C245.3 560.5 246.5 564.3 248.5 566C250.5 567.7 253.8 567.2 256 567C258.2 566.8 259.3 566 262 565C264.7 564 269 562 272 561C275 560 277.3 558.8 280 559C282.7 559.2 285.3 560.3 288 562C290.7 563.7 293.3 566.5 296 569C298.7 571.5 301 575.2 304 577C307 578.8 311 579.5 314 580C317 580.5 319.8 580 322 580C324.2 580 326.2 580.2 327 580.3" fill="none" stroke="#27a25e" stroke-width="1.4"/>
<g fill="#fff" stroke="#27a25e" stroke-width="2.3"><use href="#md" x="28.5" y="591.9"/><use href="#md" x="30.8" y="591.8"/><use href="#md" x="33" y="591.7"/><use href="#md" x="35.2" y="591.6"/><use href="#md" x="37.5" y="591.4"/><use href="#md" x="39.8" y="591.2"/><use href="#md" x="42" y="590.9"/><use href="#md" x="44.2" y="590.7"/><use href="#md" x="46.5" y="590.4"/><use href="#md" x="48.8" y="590"/><use href="#md" x="51" y="589.4"/><use href="#md" x="53.2" y="588.7"/><use href="#md" x="55.5" y="587.9"/><use href="#md" x="57.8" y="587.1"/><use href="#md" x="60" y="586.3"/><use href="#md" x="62.2" y="585.6"/><use href="#md" x="64.5" y="584.9"/><use href="#md" x="66.8" y="584.1"/><use href="#md" x="69" y="583.5"/><use href="#md" x="71.2" y="582.9"/><use href="#md" x="73.5" y="582.4"/><use href="#md" x="75.8" y="581.7"/><use href="#md" x="78" y="580.9"/><use href="#md" x="80.2" y="579.6"/><use href="#md" x="82.5" y="577.8"/><use href="#md" x="84.8" y="575.5"/><use href="#md" x="87" y="572.9"/><use href="#md" x="89.2" y="570.2"/><use href="#md" x="91.5" y="567.3"/><use href="#md" x="93.8" y="564.1"/><use href="#md" x="96" y="560.8"/><use href="#md" x="98.2" y="557.7"/><use href="#md" x="100.5" y="554.7"/><use href="#md" x="102.8" y="551.9"/><use href="#md" x="105" y="549"/><use href="#md" x="107.2" y="545.8"/><use href="#md" x="109.5" y="542.2"/><use href="#md" x="111.8" y="538.8"/><use href="#md" x="114" y="534.4"/><use href="#md" x="116.2" y="527.7"/><use href="#md" x="118.5" y="521.7"/><use href="#md" x="120.8" y="515.3"/><use href="#md" x="123" y="507.6"/><use href="#md" x="125.2" y="500.1"/><use href="#md" x="127.5" y="493"/><use href="#md" x="129.8" y="485.3"/><use href="#md" x="132" y="480.9"/><use href="#md" x="134.2" y="477.8"/><use href="#md" x="136.5" y="475.8"/><use href="#md" x="138.8" y="475"/><use href="#md" x="141" y="475.8"/><use href="#md" x="143.2" y="478.4"/><use href="#md" x="145.5" y="482.6"/><use href="#md" x="147.8" y="489.7"/><use href="#md" x="150" y="499.2"/><use href="#md" x="152.2" y="509.8"/><use href="#md" x="154.5" y="521"/><use href="#md" x="156.8" y="531.9"/><use href="#md" x="159" y="543"/><use href="#md" x="161.2" y="550.7"/><use href="#md" x="163.5" y="557.3"/><use href="#md" x="165.8" y="562.6"/><use href="#md" x="168" y="565.6"/><use href="#md" x="170.2" y="567.5"/><use href="#md" x="172.5" y="568.9"/><use href="#md" x="174.8" y="569.8"/><use href="#md" x="177" y="570.1"/><use href="#md" x="179.2" y="569.9"/><use href="#md" x="181.5" y="568.5"/><use href="#md" x="183.8" y="565.6"/><use href="#md" x="186" y="560.6"/><use href="#md" x="188.2" y="551.1"/><use href="#md" x="190.5" y="540.3"/><use href="#md" x="192.8" y="528.1"/><use href="#md" x="195" y="515.1"/><use href="#md" x="197.2" y="501.5"/><use href="#md" x="199.5" y="487.2"/><use href="#md" x="201.8" y="477.1"/><use href="#md" x="204" y="470.7"/><use href="#md" x="206.2" y="466.3"/><use href="#md" x="208.5" y="462.8"/><use href="#md" x="210.8" y="459.7"/><use href="#md" x="213" y="458"/><use href="#md" x="215.2" y="459.1"/><use href="#md" x="217.5" y="461.7"/><use href="#md" x="219.8" y="466.2"/><use href="#md" x="222" y="471.9"/><use href="#md" x="224.2" y="478.9"/><use href="#md" x="226.5" y="488"/><use href="#md" x="228.8" y="496.9"/><use href="#md" x="231" y="506.5"/><use href="#md" x="233.2" y="516"/><use href="#md" x="235.5" y="524.3"/><use href="#md" x="237.8" y="533.1"/><use href="#md" x="240" y="543"/><use href="#md" x="242.2" y="551.6"/><use href="#md" x="244.5" y="558.3"/><use href="#md" x="246.8" y="563.7"/><use href="#md" x="249" y="566.4"/><use href="#md" x="251.2" y="567.1"/><use href="#md" x="253.5" y="567.2"/><use href="#md" x="255.8" y="567"/><use href="#md" x="258" y="566.6"/><use href="#md" x="260.2" y="565.7"/><use href="#md" x="262.5" y="564.8"/><use href="#md" x="264.8" y="563.9"/><use href="#md" x="267" y="562.9"/><use href="#md" x="269.2" y="562"/><use href="#md" x="271.5" y="561.2"/><use href="#md" x="273.8" y="560.4"/><use href="#md" x="276" y="559.6"/><use href="#md" x="278.2" y="559.1"/><use href="#md" x="280.5" y="559"/><use href="#md" x="282.8" y="559.5"/><use href="#md" x="285" y="560.4"/><use href="#md" x="287.2" y="561.5"/><use href="#md" x="289.5" y="563.1"/><use href="#md" x="291.8" y="565"/><use href="#md" x="294" y="567.1"/><use href="#md" x="296.2" y="569.2"/><use href="#md" x="298.5" y="571.7"/><use href="#md" x="300.8" y="574.2"/><use href="#md" x="303" y="576.3"/><use href="#md" x="305.2" y="577.7"/><use href="#md" x="307.5" y="578.6"/><use href="#md" x="309.8" y="579.2"/><use href="#md" x="312" y="579.7"/><use href="#md" x="314.2" y="580"/><use href="#md" x="316.5" y="580.2"/><use href="#md" x="318.8" y="580.1"/><use href="#md" x="321" y="580"/><use href="#md" x="323.2" y="580"/><use href="#md" x="325.5" y="580.2"/></g>
<path d="M28.5 591.9h0.01M30.8 591.8h0.01M33 591.7h0.01M35.2 591.6h0.01M37.5 591.4h0.01M39.8 591.2h0.01M42 590.9h0.01M44.2 590.7h0.01M46.5 590.4h0.01M48.8 590h0.01M51 589.4h0.01M53.2 588.7h0.01M55.5 587.9h0.01M57.8 587.1h0.01M60 586.3h0.01M62.2 585.6h0.01M64.5 584.9h0.01M66.8 584.1h0.01M69 583.5h0.01M71.2 582.9h0.01M73.5 582.4h0.01M75.8 581.7h0.01M78 580.9h0.01M80.2 579.6h0.01M82.5 577.8h0.01M84.8 575.5h0.01M87 572.9h0.01M89.2 570.2h0.01M91.5 567.3h0.01M93.8 564.1h0.01M96 560.8h0.01M98.2 557.7h0.01M100.5 554.7h0.01M102.8 551.9h0.01M105 549h0.01M107.2 545.8h0.01M109.5 542.2h0.01M111.8 538.8h0.01M114 534.4h0.01M116.2 527.7h0.01M118.5 521.7h0.01M120.8 515.3h0.01M123 507.6h0.01M125.2 500.1h0.01M127.5 493h0.01M129.8 485.3h0.01M132 480.9h0.01M134.2 477.8h0.01M136.5 475.8h0.01M138.8 475h0.01M141 475.8h0.01M143.2 478.4h0.01M145.5 482.6h0.01M147.8 489.7h0.01M150 499.2h0.01M152.2 509.8h0.01M154.5 521h0.01M156.8 531.9h0.01M159 543h0.01M161.2 550.7h0.01M163.5 557.3h0.01M165.8 562.6h0.01M168 565.6h0.01M170.2 567.5h0.01M172.5 568.9h0.01M174.8 569.8h0.01M177 570.1h0.01M179.2 569.9h0.01M181.5 568.5h0.01M183.8 565.6h0.01M186 560.6h0.01M188.2 551.1h0.01M190.5 540.3h0.01M192.8 528.1h0.01M195 515.1h0.01M197.2 501.5h0.01M199.5 487.2h0.01M201.8 477.1h0.01M204 470.7h0.01M206.2 466.3h0.01M208.5 462.8h0.01M210.8 459.7h0.01M213 458h0.01M215.2 459.1h0.01M217.5 461.7h0.01M219.8 466.2h0.01M222 471.9h0.01M224.2 478.9h0.01M226.5 488h0.01M228.8 496.9h0.01M231 506.5h0.01M233.2 516h0.01M235.5 524.3h0.01M237.8 533.1h0.01M240 543h0.01M242.2 551.6h0.01M244.5 558.3h0.01M246.8 563.7h0.01M249 566.4h0.01M251.2 567.1h0.01M253.5 567.2h0.01M255.8 567h0.01M258 566.6h0.01M260.2 565.7h0.01M262.5 564.8h0.01M264.8 563.9h0.01M267 562.9h0.01M269.2 562h0.01M271.5 561.2h0.01M273.8 560.4h0.01M276 559.6h0.01M278.2 559.1h0.01M280.5 559h0.01M282.8 559.5h0.01M285 560.4h0.01M287.2 561.5h0.01M289.5 563.1h0.01M291.8 565h0.01M294 567.1h0.01M296.2 569.2h0.01M298.5 571.7h0.01M300.8 574.2h0.01M303 576.3h0.01M305.2 577.7h0.01M307.5 578.6h0.01M309.8 579.2h0.01M312 579.7h0.01M314.2 580h0.01M316.5 580.2h0.01M318.8 580.1h0.01M321 580h0.01M323.2 580h0.01M325.5 580.2h0.01" stroke="#27a25e" stroke-width="1.2" stroke-linecap="round"/>
<path d="M26 591C30 590.5 43.2 589.8 50 588C56.8 586.2 62 582.8 67 580C72 577.2 76.2 575 80 571C83.8 567 86.7 561 90 556C93.3 551 97.3 544.5 100 541C102.7 537.5 104.1 537.2 106 535C107.9 532.8 109.9 531.1 111.5 527.8C113.1 524.5 114.3 519.7 115.7 515.3C117.1 510.9 118.5 506.3 120 501.4C121.5 496.5 123 490.7 124.5 486C126 481.3 127.4 476.2 129 473C130.6 469.8 132.3 467.8 134 466.5C135.7 465.2 137.3 464.9 139 465C140.7 465.1 142.6 465.5 144 467C145.4 468.5 146.3 471.5 147.5 474C148.7 476.5 150 478.8 151 482C152 485.2 152.8 488.9 153.7 493C154.6 497.1 155.4 502.2 156.2 506.5C157 510.8 157.7 514.6 158.4 518.6C159.1 522.6 159.6 526.7 160.3 530.3C161 533.9 161.6 537 162.4 540C163.2 543 164 545.7 165 548C166 550.3 167.3 552.4 168.5 554C169.7 555.6 170.7 556.7 172 557.5C173.3 558.3 175.1 559.1 176.5 559C177.9 558.9 179.2 558.5 180.5 557C181.8 555.5 183 552.8 184 550C185 547.2 185.8 543.3 186.5 540C187.2 536.7 187.8 533.7 188.5 530C189.2 526.3 189.8 522 190.5 518C191.2 514 191.9 509.5 193 506C194.1 502.5 195.5 499.3 197 497C198.5 494.7 200.2 493.3 202 492C203.8 490.7 206.4 490 208 489C209.6 488 210.5 486.2 211.5 486C212.5 485.8 213.2 486.9 214 488C214.8 489.1 215.5 490.5 216.3 492.4C217.2 494.3 218.2 496.8 219.1 499.4C219.9 501.9 220.6 504.7 221.4 507.7C222.2 510.7 223 513.9 223.7 517.4C224.4 520.9 225 524.9 225.8 528.9C226.6 532.9 227.4 537 228.3 541.2C229.2 545.4 230.2 549.7 231 554C231.8 558.3 232.5 562.7 233.2 566.8C233.9 570.9 234.6 575.5 235.3 578.7C236 581.9 236.8 584.3 237.6 586C238.4 587.7 239.1 589.9 240 588.9C240.9 587.9 241.8 583 242.8 580C243.8 577 244.8 574 246 571C247.2 568 248.3 564.2 250 562C251.7 559.8 254 559 256 558C258 557 259.7 556.8 262 556C264.3 555.2 267.3 553.7 270 553C272.7 552.3 275.3 551.5 278 552C280.7 552.5 283.7 553.8 286 556C288.3 558.2 290 561.5 292 565C294 568.5 296 573.8 298 577C300 580.2 302 582.7 304 584C306 585.3 307.7 586 310 585C312.3 584 315.5 580.5 318 578C320.5 575.5 323.8 571.6 325 570.3" fill="none" stroke="#c7128c" stroke-width="1.4"/>
<g fill="#fff" stroke="#c7128c" stroke-width="2.3"><use href="#ms" x="28.5" y="590.7"/><use href="#ms" x="30.8" y="590.6"/><use href="#ms" x="33" y="590.4"/><use href="#ms" x="35.2" y="590.2"/><use href="#ms" x="37.5" y="589.9"/><use href="#ms" x="39.8" y="589.7"/><use href="#ms" x="42" y="589.4"/><use href="#ms" x="44.2" y="589.1"/><use href="#ms" x="46.5" y="588.8"/><use href="#ms" x="48.8" y="588.3"/><use href="#ms" x="51" y="587.7"/><use href="#ms" x="53.2" y="587"/><use href="#ms" x="55.5" y="586.1"/><use href="#ms" x="57.8" y="585.1"/><use href="#ms" x="60" y="584"/><use href="#ms" x="62.2" y="582.7"/><use href="#ms" x="64.5" y="581.4"/><use href="#ms" x="66.8" y="580.1"/><use href="#ms" x="69" y="578.9"/><use href="#ms" x="71.2" y="577.6"/><use href="#ms" x="73.5" y="576.2"/><use href="#ms" x="75.8" y="574.7"/><use href="#ms" x="78" y="572.9"/><use href="#ms" x="80.2" y="570.7"/><use href="#ms" x="82.5" y="568"/><use href="#ms" x="84.8" y="564.6"/><use href="#ms" x="87" y="560.8"/><use href="#ms" x="89.2" y="557.2"/><use href="#ms" x="91.5" y="553.7"/><use href="#ms" x="93.8" y="550.3"/><use href="#ms" x="96" y="546.8"/><use href="#ms" x="98.2" y="543.4"/><use href="#ms" x="100.5" y="540.4"/><use href="#ms" x="102.8" y="538"/><use href="#ms" x="105" y="536"/><use href="#ms" x="107.2" y="533.6"/><use href="#ms" x="109.5" y="531"/><use href="#ms" x="111.8" y="527.3"/><use href="#ms" x="114" y="520.9"/><use href="#ms" x="116.2" y="513.6"/><use href="#ms" x="118.5" y="506.4"/><use href="#ms" x="120.8" y="498.9"/><use href="#ms" x="123" y="491"/><use href="#ms" x="125.2" y="483.6"/><use href="#ms" x="127.5" y="476.7"/><use href="#ms" x="129.8" y="471.6"/><use href="#ms" x="132" y="468.4"/><use href="#ms" x="134.2" y="466.3"/><use href="#ms" x="136.5" y="465.2"/><use href="#ms" x="138.8" y="465"/><use href="#ms" x="141" y="465.3"/><use href="#ms" x="143.2" y="466.3"/><use href="#ms" x="145.5" y="469.4"/><use href="#ms" x="147.8" y="474.5"/><use href="#ms" x="150" y="479.3"/><use href="#ms" x="152.2" y="486.5"/><use href="#ms" x="154.5" y="497"/><use href="#ms" x="156.8" y="509.5"/><use href="#ms" x="159" y="522.3"/><use href="#ms" x="161.2" y="535.1"/><use href="#ms" x="163.5" y="543.9"/><use href="#ms" x="165.8" y="549.6"/><use href="#ms" x="168" y="553.3"/><use href="#ms" x="170.2" y="556.1"/><use href="#ms" x="172.5" y="557.8"/><use href="#ms" x="174.8" y="558.8"/><use href="#ms" x="177" y="559"/><use href="#ms" x="179.2" y="558.1"/><use href="#ms" x="181.5" y="555.6"/><use href="#ms" x="183.8" y="550.7"/><use href="#ms" x="186" y="542.3"/><use href="#ms" x="188.2" y="531.4"/><use href="#ms" x="190.5" y="518"/><use href="#ms" x="192.8" y="506.9"/><use href="#ms" x="195" y="500.7"/><use href="#ms" x="197.2" y="496.6"/><use href="#ms" x="199.5" y="494"/><use href="#ms" x="201.8" y="492.2"/><use href="#ms" x="204" y="490.9"/><use href="#ms" x="206.2" y="489.9"/><use href="#ms" x="208.5" y="488.6"/><use href="#ms" x="210.8" y="486.4"/><use href="#ms" x="213" y="486.7"/><use href="#ms" x="215.2" y="490.1"/><use href="#ms" x="217.5" y="495.2"/><use href="#ms" x="219.8" y="501.5"/><use href="#ms" x="222" y="510.1"/><use href="#ms" x="224.2" y="520.2"/><use href="#ms" x="226.5" y="532.4"/><use href="#ms" x="228.8" y="543.3"/><use href="#ms" x="231" y="554"/><use href="#ms" x="233.2" y="567.1"/><use href="#ms" x="235.5" y="579.5"/><use href="#ms" x="237.8" y="586.3"/><use href="#ms" x="240" y="588.9"/><use href="#ms" x="242.2" y="581.8"/><use href="#ms" x="244.5" y="575"/><use href="#ms" x="246.8" y="569"/><use href="#ms" x="249" y="563.6"/><use href="#ms" x="251.2" y="560.7"/><use href="#ms" x="253.5" y="559.2"/><use href="#ms" x="255.8" y="558.1"/><use href="#ms" x="258" y="557.2"/><use href="#ms" x="260.2" y="556.6"/><use href="#ms" x="262.5" y="555.8"/><use href="#ms" x="264.8" y="554.9"/><use href="#ms" x="267" y="554"/><use href="#ms" x="269.2" y="553.2"/><use href="#ms" x="271.5" y="552.6"/><use href="#ms" x="273.8" y="552.1"/><use href="#ms" x="276" y="551.9"/><use href="#ms" x="278.2" y="552"/><use href="#ms" x="280.5" y="552.7"/><use href="#ms" x="282.8" y="553.7"/><use href="#ms" x="285" y="555.2"/><use href="#ms" x="287.2" y="557.3"/><use href="#ms" x="289.5" y="560.6"/><use href="#ms" x="291.8" y="564.6"/><use href="#ms" x="294" y="569"/><use href="#ms" x="296.2" y="573.8"/><use href="#ms" x="298.5" y="577.8"/><use href="#ms" x="300.8" y="580.9"/><use href="#ms" x="303" y="583.2"/><use href="#ms" x="305.2" y="584.8"/><use href="#ms" x="307.5" y="585.5"/><use href="#ms" x="309.8" y="585.1"/><use href="#ms" x="312" y="583.7"/><use href="#ms" x="314.2" y="581.7"/><use href="#ms" x="316.5" y="579.5"/><use href="#ms" x="318.8" y="577.2"/><use href="#ms" x="321" y="574.8"/><use href="#ms" x="323.2" y="572.3"/></g>
<path d="M28.5 590.7h0.01M30.8 590.6h0.01M33 590.4h0.01M35.2 590.2h0.01M37.5 589.9h0.01M39.8 589.7h0.01M42 589.4h0.01M44.2 589.1h0.01M46.5 588.8h0.01M48.8 588.3h0.01M51 587.7h0.01M53.2 587h0.01M55.5 586.1h0.01M57.8 585.1h0.01M60 584h0.01M62.2 582.7h0.01M64.5 581.4h0.01M66.8 580.1h0.01M69 578.9h0.01M71.2 577.6h0.01M73.5 576.2h0.01M75.8 574.7h0.01M78 572.9h0.01M80.2 570.7h0.01M82.5 568h0.01M84.8 564.6h0.01M87 560.8h0.01M89.2 557.2h0.01M91.5 553.7h0.01M93.8 550.3h0.01M96 546.8h0.01M98.2 543.4h0.01M100.5 540.4h0.01M102.8 538h0.01M105 536h0.01M107.2 533.6h0.01M109.5 531h0.01M111.8 527.3h0.01M114 520.9h0.01M116.2 513.6h0.01M118.5 506.4h0.01M120.8 498.9h0.01M123 491h0.01M125.2 483.6h0.01M127.5 476.7h0.01M129.8 471.6h0.01M132 468.4h0.01M134.2 466.3h0.01M136.5 465.2h0.01M138.8 465h0.01M141 465.3h0.01M143.2 466.3h0.01M145.5 469.4h0.01M147.8 474.5h0.01M150 479.3h0.01M152.2 486.5h0.01M154.5 497h0.01M156.8 509.5h0.01M159 522.3h0.01M161.2 535.1h0.01M163.5 543.9h0.01M165.8 549.6h0.01M168 553.3h0.01M170.2 556.1h0.01M172.5 557.8h0.01M174.8 558.8h0.01M177 559h0.01M179.2 558.1h0.01M181.5 555.6h0.01M183.8 550.7h0.01M186 542.3h0.01M188.2 531.4h0.01M190.5 518h0.01M192.8 506.9h0.01M195 500.7h0.01M197.2 496.6h0.01M199.5 494h0.01M201.8 492.2h0.01M204 490.9h0.01M206.2 489.9h0.01M208.5 488.6h0.01M210.8 486.4h0.01M213 486.7h0.01M215.2 490.1h0.01M217.5 495.2h0.01M219.8 501.5h0.01M222 510.1h0.01M224.2 520.2h0.01M226.5 532.4h0.01M228.8 543.3h0.01M231 554h0.01M233.2 567.1h0.01M235.5 579.5h0.01M237.8 586.3h0.01M240 588.9h0.01M242.2 581.8h0.01M244.5 575h0.01M246.8 569h0.01M249 563.6h0.01M251.2 560.7h0.01M253.5 559.2h0.01M255.8 558.1h0.01M258 557.2h0.01M260.2 556.6h0.01M262.5 555.8h0.01M264.8 554.9h0.01M267 554h0.01M269.2 553.2h0.01M271.5 552.6h0.01M273.8 552.1h0.01M276 551.9h0.01M278.2 552h0.01M280.5 552.7h0.01M282.8 553.7h0.01M285 555.2h0.01M287.2 557.3h0.01M289.5 560.6h0.01M291.8 564.6h0.01M294 569h0.01M296.2 573.8h0.01M298.5 577.8h0.01M300.8 580.9h0.01M303 583.2h0.01M305.2 584.8h0.01M307.5 585.5h0.01M309.8 585.1h0.01M312 583.7h0.01M314.2 581.7h0.01M316.5 579.5h0.01M318.8 577.2h0.01M321 574.8h0.01M323.2 572.3h0.01" stroke="#c7128c" stroke-width="1.2" stroke-linecap="round"/>
<path d="M26 590C27.7 589.8 32.3 589.5 36 589C39.7 588.5 44.3 588 48 587C51.7 586 54.8 584.5 58 583C61.2 581.5 64.2 579.5 67 578C69.8 576.5 72.7 575.4 75 574C77.3 572.6 78.6 572.4 80.8 569.4C83 566.4 85.7 559.9 88.2 555.8C90.7 551.7 93.1 547.8 95.6 544.7C98.1 541.6 101 538.8 103 537C105 535.2 106.1 535.5 107.8 534C109.5 532.5 111.7 530.9 113.3 527.8C114.9 524.7 116.1 519.7 117.5 515.3C118.9 510.9 120.3 506.3 121.7 501.4C123.1 496.5 124.4 491.3 125.8 486C127.2 480.7 128.6 473.6 130 469.4C131.4 465.2 132.6 463.1 134 461C135.4 458.9 136.9 457.2 138.3 457C139.7 456.8 141.1 458.2 142.5 459.5C143.9 460.8 145.3 461.4 146.7 465C148.1 468.6 149.8 476.3 151 481C152.2 485.7 152.8 488.8 153.7 493C154.6 497.2 155.4 502.2 156.2 506.5C157 510.8 157.7 514.6 158.4 518.6C159.1 522.6 159.6 526.6 160.3 530.3C161 534 161.7 537.7 162.4 541C163.1 544.3 163.8 547.4 164.7 550.2C165.6 553 166.7 555.8 167.8 557.9C169 560 170.2 561.4 171.6 562.6C173 563.8 174.5 565 176.2 564.9C177.9 564.8 180 563.7 181.6 561.8C183.2 559.9 184.5 556.5 185.5 553.3C186.5 550.1 187 546.6 187.8 542.5C188.6 538.4 189.3 533.2 190.1 528.6C190.9 524 191.7 519.9 192.5 514.7C193.3 509.6 194.1 503.1 194.8 497.7C195.5 492.3 196.2 487.2 196.9 482.2C197.6 477.1 197.9 472 198.7 467.4C199.5 462.8 200.8 458.5 201.6 454.5C202.4 450.5 202.7 446.7 203.5 443.4C204.3 440.1 205.6 437.3 206.5 434.8C207.4 432.3 208 430 209 428.6C210 427.2 211.4 426.3 212.7 426.7C214 427.1 215.9 429.1 217 431C218.1 432.9 218.8 435.1 219.5 437.8C220.2 440.5 220.7 443.6 221.4 447.1C222.1 450.6 223 454.7 223.8 458.8C224.6 462.9 225.5 467.2 226.3 471.8C227.2 476.4 228 481.2 228.9 486.2C229.8 491.2 231.1 496.5 232 501.6C232.9 506.7 233.5 512.1 234.3 517C235.1 521.9 235.7 526.7 236.6 531C237.5 535.3 238.4 539.3 239.5 543C240.6 546.7 241.8 550.2 243 553C244.2 555.8 245.7 558.1 247 559.5C248.3 560.9 248.7 562.7 251 561.5C253.3 560.3 257.7 554.6 260.9 552.5C264.1 550.4 267.3 549.8 270.1 548.6C272.9 547.5 275.3 545.5 277.9 545.6C280.5 545.7 283.3 547.5 285.6 549.4C287.9 551.3 289.8 554.3 291.8 557.1C293.9 559.9 295.8 563.2 297.9 566.4C299.9 569.5 301.5 574.3 304.1 576C306.7 577.7 310.3 576.7 313.4 576.4C316.5 576.1 320.4 574.1 322.6 574.1C324.8 574.1 325.9 576 326.5 576.4" fill="none" stroke="#1a8d97" stroke-width="1.4"/>
<g fill="#fff" stroke="#1a8d97" stroke-width="2.3"><use href="#mp" x="28.5" y="589.8"/><use href="#mp" x="30.8" y="589.6"/><use href="#mp" x="33" y="589.4"/><use href="#mp" x="35.2" y="589.1"/><use href="#mp" x="37.5" y="588.8"/><use href="#mp" x="39.8" y="588.5"/><use href="#mp" x="42" y="588.2"/><use href="#mp" x="44.2" y="587.8"/><use href="#mp" x="46.5" y="587.4"/><use href="#mp" x="48.8" y="586.8"/><use href="#mp" x="51" y="586"/><use href="#mp" x="53.2" y="585.2"/><use href="#mp" x="55.5" y="584.2"/><use href="#mp" x="57.8" y="583.1"/><use href="#mp" x="60" y="582"/><use href="#mp" x="62.2" y="580.7"/><use href="#mp" x="64.5" y="579.4"/><use href="#mp" x="66.8" y="578.1"/><use href="#mp" x="69" y="577"/><use href="#mp" x="71.2" y="576"/><use href="#mp" x="73.5" y="574.9"/><use href="#mp" x="75.8" y="573.6"/><use href="#mp" x="78" y="572.3"/><use href="#mp" x="80.2" y="570.1"/><use href="#mp" x="82.5" y="566.6"/><use href="#mp" x="84.8" y="562.3"/><use href="#mp" x="87" y="557.9"/><use href="#mp" x="89.2" y="554.1"/><use href="#mp" x="91.5" y="550.5"/><use href="#mp" x="93.8" y="547.2"/><use href="#mp" x="96" y="544.2"/><use href="#mp" x="98.2" y="541.6"/><use href="#mp" x="100.5" y="539.3"/><use href="#mp" x="102.8" y="537.2"/><use href="#mp" x="105" y="535.7"/><use href="#mp" x="107.2" y="534.4"/><use href="#mp" x="109.5" y="532.5"/><use href="#mp" x="111.8" y="530.2"/><use href="#mp" x="114" y="526.3"/><use href="#mp" x="116.2" y="519.5"/><use href="#mp" x="118.5" y="512.1"/><use href="#mp" x="120.8" y="504.7"/><use href="#mp" x="123" y="496.7"/><use href="#mp" x="125.2" y="488.1"/><use href="#mp" x="127.5" y="479"/><use href="#mp" x="129.8" y="470.2"/><use href="#mp" x="132" y="464.4"/><use href="#mp" x="134.2" y="460.6"/><use href="#mp" x="136.5" y="458"/><use href="#mp" x="138.8" y="457"/><use href="#mp" x="141" y="458.1"/><use href="#mp" x="143.2" y="460.2"/><use href="#mp" x="145.5" y="462.6"/><use href="#mp" x="147.8" y="468.2"/><use href="#mp" x="150" y="476.9"/><use href="#mp" x="152.2" y="486.2"/><use href="#mp" x="154.5" y="497.1"/><use href="#mp" x="156.8" y="509.5"/><use href="#mp" x="159" y="522.3"/><use href="#mp" x="161.2" y="535.4"/><use href="#mp" x="163.5" y="545.8"/><use href="#mp" x="165.8" y="553.3"/><use href="#mp" x="168" y="558.3"/><use href="#mp" x="170.2" y="561.3"/><use href="#mp" x="172.5" y="563.3"/><use href="#mp" x="174.8" y="564.7"/><use href="#mp" x="177" y="564.8"/><use href="#mp" x="179.2" y="563.8"/><use href="#mp" x="181.5" y="561.9"/><use href="#mp" x="183.8" y="558"/><use href="#mp" x="186" y="551.6"/><use href="#mp" x="188.2" y="540"/><use href="#mp" x="190.5" y="526.3"/><use href="#mp" x="192.8" y="513"/><use href="#mp" x="195" y="496.2"/><use href="#mp" x="197.2" y="479.3"/><use href="#mp" x="199.5" y="463.4"/><use href="#mp" x="201.8" y="453.7"/><use href="#mp" x="204" y="441.6"/><use href="#mp" x="206.2" y="435.5"/><use href="#mp" x="208.5" y="429.4"/><use href="#mp" x="210.8" y="427"/><use href="#mp" x="213" y="426.8"/><use href="#mp" x="215.2" y="428.7"/><use href="#mp" x="217.5" y="431.9"/><use href="#mp" x="219.8" y="438.8"/><use href="#mp" x="222" y="450"/><use href="#mp" x="224.2" y="461.1"/><use href="#mp" x="226.5" y="472.9"/><use href="#mp" x="228.8" y="485.4"/><use href="#mp" x="231" y="496.4"/><use href="#mp" x="233.2" y="509.7"/><use href="#mp" x="235.5" y="524.8"/><use href="#mp" x="237.8" y="536.3"/><use href="#mp" x="240" y="544.7"/><use href="#mp" x="242.2" y="551.2"/><use href="#mp" x="244.5" y="556"/><use href="#mp" x="246.8" y="559.2"/><use href="#mp" x="249" y="561.7"/><use href="#mp" x="251.2" y="561.4"/><use href="#mp" x="253.5" y="559.5"/><use href="#mp" x="255.8" y="557.2"/><use href="#mp" x="258" y="555"/><use href="#mp" x="260.2" y="553"/><use href="#mp" x="262.5" y="551.5"/><use href="#mp" x="264.8" y="550.5"/><use href="#mp" x="267" y="549.7"/><use href="#mp" x="269.2" y="548.9"/><use href="#mp" x="271.5" y="548"/><use href="#mp" x="273.8" y="546.8"/><use href="#mp" x="276" y="545.8"/><use href="#mp" x="278.2" y="545.6"/><use href="#mp" x="280.5" y="546.2"/><use href="#mp" x="282.8" y="547.3"/><use href="#mp" x="285" y="548.9"/><use href="#mp" x="287.2" y="551"/><use href="#mp" x="289.5" y="553.9"/><use href="#mp" x="291.8" y="557"/><use href="#mp" x="294" y="560.3"/><use href="#mp" x="296.2" y="563.8"/><use href="#mp" x="298.5" y="567.4"/><use href="#mp" x="300.8" y="571.7"/><use href="#mp" x="303" y="575.1"/><use href="#mp" x="305.2" y="576.6"/><use href="#mp" x="307.5" y="576.9"/><use href="#mp" x="309.8" y="576.9"/><use href="#mp" x="312" y="576.6"/><use href="#mp" x="314.2" y="576.3"/><use href="#mp" x="316.5" y="575.7"/><use href="#mp" x="318.8" y="575"/><use href="#mp" x="321" y="574.3"/><use href="#mp" x="323.2" y="574.2"/><use href="#mp" x="325.5" y="575.4"/></g>
<path d="M28.5 589.8h0.01M30.8 589.6h0.01M33 589.4h0.01M35.2 589.1h0.01M37.5 588.8h0.01M39.8 588.5h0.01M42 588.2h0.01M44.2 587.8h0.01M46.5 587.4h0.01M48.8 586.8h0.01M51 586h0.01M53.2 585.2h0.01M55.5 584.2h0.01M57.8 583.1h0.01M60 582h0.01M62.2 580.7h0.01M64.5 579.4h0.01M66.8 578.1h0.01M69 577h0.01M71.2 576h0.01M73.5 574.9h0.01M75.8 573.6h0.01M78 572.3h0.01M80.2 570.1h0.01M82.5 566.6h0.01M84.8 562.3h0.01M87 557.9h0.01M89.2 554.1h0.01M91.5 550.5h0.01M93.8 547.2h0.01M96 544.2h0.01M98.2 541.6h0.01M100.5 539.3h0.01M102.8 537.2h0.01M105 535.7h0.01M107.2 534.4h0.01M109.5 532.5h0.01M111.8 530.2h0.01M114 526.3h0.01M116.2 519.5h0.01M118.5 512.1h0.01M120.8 504.7h0.01M123 496.7h0.01M125.2 488.1h0.01M127.5 479h0.01M129.8 470.2h0.01M132 464.4h0.01M134.2 460.6h0.01M136.5 458h0.01M138.8 457h0.01M141 458.1h0.01M143.2 460.2h0.01M145.5 462.6h0.01M147.8 468.2h0.01M150 476.9h0.01M152.2 486.2h0.01M154.5 497.1h0.01M156.8 509.5h0.01M159 522.3h0.01M161.2 535.4h0.01M163.5 545.8h0.01M165.8 553.3h0.01M168 558.3h0.01M170.2 561.3h0.01M172.5 563.3h0.01M174.8 564.7h0.01M177 564.8h0.01M179.2 563.8h0.01M181.5 561.9h0.01M183.8 558h0.01M186 551.6h0.01M188.2 540h0.01M190.5 526.3h0.01M192.8 513h0.01M195 496.2h0.01M197.2 479.3h0.01M199.5 463.4h0.01M201.8 453.7h0.01M204 441.6h0.01M206.2 435.5h0.01M208.5 429.4h0.01M210.8 427h0.01M213 426.8h0.01M215.2 428.7h0.01M217.5 431.9h0.01M219.8 438.8h0.01M222 450h0.01M224.2 461.1h0.01M226.5 472.9h0.01M228.8 485.4h0.01M231 496.4h0.01M233.2 509.7h0.01M235.5 524.8h0.01M237.8 536.3h0.01M240 544.7h0.01M242.2 551.2h0.01M244.5 556h0.01M246.8 559.2h0.01M249 561.7h0.01M251.2 561.4h0.01M253.5 559.5h0.01M255.8 557.2h0.01M258 555h0.01M260.2 553h0.01M262.5 551.5h0.01M264.8 550.5h0.01M267 549.7h0.01M269.2 548.9h0.01M271.5 548h0.01M273.8 546.8h0.01M276 545.8h0.01M278.2 545.6h0.01M280.5 546.2h0.01M282.8 547.3h0.01M285 548.9h0.01M287.2 551h0.01M289.5 553.9h0.01M291.8 557h0.01M294 560.3h0.01M296.2 563.8h0.01M298.5 567.4h0.01M300.8 571.7h0.01M303 575.1h0.01M305.2 576.6h0.01M307.5 576.9h0.01M309.8 576.9h0.01M312 576.6h0.01M314.2 576.3h0.01M316.5 575.7h0.01M318.8 575h0.01M321 574.3h0.01M323.2 574.2h0.01M325.5 575.4h0.01" stroke="#1a8d97" stroke-width="1.2" stroke-linecap="round"/>
<path d="M26 590C27.7 589.8 32.5 589 36.3 588.5C40.1 588 45 587.7 48.7 586.7C52.4 585.7 55.5 583.8 58.6 582.3C61.7 580.8 64.3 579 67.2 578C70.1 577 73.4 577.2 75.9 576.2C78.4 575.2 80 573.8 82 571.9C84 570 86.1 567.6 88.2 565.1C90.3 562.6 92.4 559.4 94.4 557C96.5 554.6 98.8 552.5 100.5 550.9C102.2 549.3 102.8 548.8 104.8 547.4C106.8 546 110 545.1 112.2 542.5C114.4 539.9 116.4 535.8 118.2 532C120 528.2 121.5 523.7 123 520C124.5 516.3 125.3 513.9 127 510C128.7 506.1 131.2 500.1 133.2 496.8C135.2 493.5 136.9 490.5 138.8 490.3C140.7 490.1 142.6 492.2 144.5 495.5C146.4 498.8 148.3 503.4 150 510C151.7 516.5 153 527.8 154.6 534.8C156.2 541.8 157.5 546.9 159.3 551.8C161.1 556.7 163.4 561.1 165.4 564.1C167.4 567.1 169.8 568.2 171.6 569.5C173.4 570.8 174.4 571.5 176 572C177.6 572.5 179.3 573.1 180.9 572.6C182.5 572.1 184.1 572.2 185.5 568.7C186.9 565.2 188.1 557.7 189.4 551.8C190.7 545.9 191.8 539.6 193.2 533.2C194.6 526.8 196.3 519.9 197.9 513.2C199.5 506.5 201.2 498.5 202.5 493.1C203.8 487.7 204.8 484.3 206 481C207.2 477.7 208.2 475.2 209.5 473.5C210.8 471.8 212.2 470.5 213.5 470.5C214.8 470.5 216.3 471.6 217.5 473.5C218.7 475.4 219.1 476.9 220.9 482C222.7 487.1 225.8 495.6 228.3 504.2C230.8 512.8 233.2 525.2 235.7 533.8C238.2 542.4 240.7 549.9 243.1 556C245.5 562.1 247.6 568.1 250.1 570.3C252.6 572.5 255 569.9 257.8 569.2C260.6 568.6 264 567.2 267.1 566.4C270.2 565.5 273.7 564.4 276.3 564.1C278.9 563.9 279.9 563.6 282.5 564.9C285.1 566.2 288.7 569.5 291.8 571.8C294.9 574.1 298.4 577.1 301 578.8C303.6 580.5 304.9 581.5 307.2 581.8C309.5 582 312.1 580.5 314.9 580.3C317.7 580.1 322.6 580.5 324.2 580.6" fill="none" stroke="#2e7dbb" stroke-width="4.6" stroke-linecap="round" stroke-linejoin="round"/>
<rect x="23.9" y="317.5" width="305.6" height="281" fill="none" stroke="#000" stroke-width="2.2"/>
<path d="M99.3 598.5V591.5 M99.3 317.5V324.5M176.7 598.5V591.5 M176.7 317.5V324.5M254.7 598.5V591.5 M254.7 317.5V324.5" stroke="#000" stroke-width="2" fill="none"/>
<text x="25" y="620.3" font-size="16.2" text-anchor="middle">0</text>
<text x="99.3" y="620.3" font-size="16.2" text-anchor="middle">1</text>
<text x="176.7" y="620.3" font-size="16.2" text-anchor="middle">2</text>
<text x="254.7" y="620.3" font-size="16.2" text-anchor="middle">3</text>
<text x="329" y="620.3" font-size="16.2" text-anchor="middle">4</text>
<text x="117.9" y="644.4" font-size="18" textLength="150.3" lengthAdjust="spacingAndGlyphs">Radial distance (Å)</text>
<text transform="translate(17.2 491) rotate(-90)" font-size="18.5" textLength="81" lengthAdjust="spacingAndGlyphs">|χ(<tspan font-style="italic">R</tspan>) (Å<tspan font-size="12" dy="-7.5">-3</tspan><tspan dy="7.5">)|</tspan></text>
<text x="3.6" y="335.3" font-size="23.5" font-weight="bold" textLength="12.8" lengthAdjust="spacingAndGlyphs">b</text>
<line x1="231.3" y1="360.7" x2="265" y2="360.7" stroke="#d95f0e" stroke-width="1.9"/>
<use href="#mt" transform="translate(248.3 360.7) scale(1.8)" fill="#fff" stroke="#d95f0e" stroke-width="1.1"/>
<circle cx="248.3" cy="360.7" r="1.1" fill="#d95f0e"/>
<text x="268.2" y="365.3" font-size="13.6" textLength="57.5" lengthAdjust="spacingAndGlyphs">MnCr<tspan font-size="9.5" dy="3">2</tspan><tspan dy="-3">O</tspan><tspan font-size="9.5" dy="3">4</tspan></text>
<line x1="231.3" y1="380.7" x2="265" y2="380.7" stroke="#8a55ad" stroke-width="1.9"/>
<use href="#mc" transform="translate(248.3 380.7) scale(1.78)" fill="#fff" stroke="#8a55ad" stroke-width="1.1"/>
<circle cx="248.3" cy="380.7" r="1.1" fill="#8a55ad"/>
<text x="269.1" y="386.1" font-size="13.6" textLength="53.2" lengthAdjust="spacingAndGlyphs">CoCr<tspan font-size="9.5" dy="3">2</tspan><tspan dy="-3">O</tspan><tspan font-size="9.5" dy="3">4</tspan></text>
<line x1="231.3" y1="400.3" x2="265" y2="400.3" stroke="#27a25e" stroke-width="1.9"/>
<use href="#md" transform="translate(248.3 400.3) scale(1.97)" fill="#fff" stroke="#27a25e" stroke-width="1"/>
<circle cx="248.3" cy="400.3" r="1.1" fill="#27a25e"/>
<text x="270" y="404.6" font-size="13.6" textLength="50.6" lengthAdjust="spacingAndGlyphs">NiCr<tspan font-size="9.5" dy="3">2</tspan><tspan dy="-3">O</tspan><tspan font-size="9.5" dy="3">4</tspan></text>
<line x1="231.3" y1="415.9" x2="265" y2="415.9" stroke="#c7128c" stroke-width="1.9"/>
<use href="#ms" transform="translate(248.3 415.9) scale(2.2)" fill="#fff" stroke="#c7128c" stroke-width="0.9"/>
<circle cx="248.3" cy="415.9" r="1.1" fill="#c7128c"/>
<text x="270.5" y="421.2" font-size="13.6" textLength="53.5" lengthAdjust="spacingAndGlyphs">CuCr<tspan font-size="9.5" dy="3">2</tspan><tspan dy="-3">O</tspan><tspan font-size="9.5" dy="3">4</tspan></text>
<line x1="231.3" y1="433.2" x2="265" y2="433.2" stroke="#1a8d97" stroke-width="1.9"/>
<use href="#mp" transform="translate(248.3 433.2) scale(1.8)" fill="#fff" stroke="#1a8d97" stroke-width="1.1"/>
<circle cx="248.3" cy="433.2" r="1.1" fill="#1a8d97"/>
<text x="271.2" y="437.9" font-size="13.6" textLength="53.8" lengthAdjust="spacingAndGlyphs">ZnCr<tspan font-size="9.5" dy="3">2</tspan><tspan dy="-3">O</tspan><tspan font-size="9.5" dy="3">4</tspan></text>
<line x1="231.3" y1="452.5" x2="265" y2="452.5" stroke="#2e7dbb" stroke-width="4.2"/>
<text x="270.5" y="455.9" font-size="13.6" textLength="51.5" lengthAdjust="spacingAndGlyphs"><tspan font-style="italic">A</tspan><tspan font-size="9.5" dy="-4.8">5</tspan><tspan dy="4.8">Cr</tspan><tspan font-size="9.5" dy="3">2</tspan><tspan dy="-3">O</tspan><tspan font-size="9.5" dy="3">4</tspan></text>
<path d="M516.4 110.2L515.7 67.2M516.4 110.2L492.2 101.8M516.4 110.2L480.4 112.4M516.4 110.2L553.5 106.2M516.4 110.2L540.4 116.6M516.4 110.2L516.4 150.7M547.6 47.4L555.2 20.3M547.6 47.4L541.6 30.9M547.6 47.4L515.7 67.2M547.6 47.4L578.1 71.2" stroke="#7c7c7c" stroke-width="3.8" fill="none"/>
<path d="M516.4 110.2L515.7 67.2M516.4 110.2L492.2 101.8M516.4 110.2L480.4 112.4M516.4 110.2L553.5 106.2M516.4 110.2L540.4 116.6M516.4 110.2L516.4 150.7M547.6 47.4L555.2 20.3M547.6 47.4L541.6 30.9M547.6 47.4L515.7 67.2M547.6 47.4L578.1 71.2" stroke="#a4a4a4" stroke-width="1.2" fill="none"/>
<circle cx="540.4" cy="116.6" r="5.3" fill="url(#gG)"/>
<circle cx="541.6" cy="30.9" r="5.3" fill="url(#gG)"/>
<circle cx="578.1" cy="71.2" r="5.3" fill="url(#gG)"/>
<circle cx="555.2" cy="20.3" r="5.3" fill="url(#gG)"/>
<circle cx="492.2" cy="101.8" r="5.3" fill="url(#gG)"/>
<circle cx="515.7" cy="67.2" r="5.3" fill="url(#gG)"/>
<circle cx="516.4" cy="150.7" r="5.3" fill="url(#gG)"/>
<circle cx="480.4" cy="112.4" r="5.3" fill="url(#gG)"/>
<circle cx="553.5" cy="106.2" r="5.3" fill="url(#gG)"/>
<circle cx="516.4" cy="110.2" r="10.4" fill="url(#gB)"/>
<path d="M547.6 47.4L547.6 36.2A11.2 11.2 0 0 1 558.6 45.1Z" fill="#dc6e14"/>
<path d="M547.6 47.4L558.6 45.1A11.2 11.2 0 0 1 553.5 56.9Z" fill="#8d56a8"/>
<path d="M547.6 47.4L553.5 56.9A11.2 11.2 0 0 1 541.7 56.9Z" fill="#27995a"/>
<path d="M547.6 47.4L541.7 56.9A11.2 11.2 0 0 1 536.8 44.5Z" fill="#c4268e"/>
<path d="M547.6 47.4L536.8 44.5A11.2 11.2 0 0 1 547.6 36.2Z" fill="#1a96a0"/>
<circle cx="547.6" cy="47.4" r="11.2" fill="url(#gW)"/>
<path d="M547.6 47.4L541.6 30.9" stroke="#7c7c7c" stroke-width="3.8"/><path d="M547.6 47.4L541.6 30.9" stroke="#a4a4a4" stroke-width="1.2"/>
<circle cx="541.6" cy="30.9" r="5.3" fill="url(#gG)"/>
<line x1="526.5" y1="92" x2="539.5" y2="66.5" stroke="#5c5c5c" stroke-width="1.8"/>
<path d="M523 99.5L522.7 88.6L531.6 93.1Z M543 59.6L543.3 70.5L534.4 66Z" fill="#5c5c5c"/>
<line x1="564" y1="43.7" x2="586.5" y2="60.3" stroke="#5c5c5c" stroke-width="1.8"/>
<path d="M557.6 39.4L568.4 40.6L562.6 48.7Z M593.2 65L582.4 63.6L588.2 55.6Z" fill="#5c5c5c"/>
<line x1="463.6" y1="2.7" x2="463.6" y2="597.5" stroke="#bdbdbd" stroke-width="3" stroke-dasharray="11.7 8.3" stroke-dashoffset="0"/>
<line x1="569.4" y1="2.7" x2="569.4" y2="597.5" stroke="#bdbdbd" stroke-width="3" stroke-dasharray="11.7 8.3" stroke-dashoffset="-4"/>
<g fill="none" stroke="#f9b987" stroke-width="1.6"><use href="#mo" x="373" y="200.1"/><use href="#mo" x="375.2" y="200.8"/><use href="#mo" x="377.4" y="201.5"/><use href="#mo" x="379.6" y="202.1"/><use href="#mo" x="381.8" y="202.6"/><use href="#mo" x="384" y="203.1"/><use href="#mo" x="386.2" y="203.3"/><use href="#mo" x="388.4" y="203.4"/><use href="#mo" x="390.6" y="203.3"/><use href="#mo" x="392.8" y="203.2"/><use href="#mo" x="395" y="203"/><use href="#mo" x="397.2" y="202.7"/><use href="#mo" x="399.4" y="202.4"/><use href="#mo" x="401.6" y="202.2"/><use href="#mo" x="403.8" y="202"/><use href="#mo" x="406" y="201.8"/><use href="#mo" x="408.2" y="201.7"/><use href="#mo" x="410.4" y="201.5"/><use href="#mo" x="412.6" y="201.3"/><use href="#mo" x="414.8" y="200.9"/><use href="#mo" x="417" y="200.4"/><use href="#mo" x="419.2" y="199.6"/><use href="#mo" x="421.4" y="198.3"/><use href="#mo" x="423.6" y="196.7"/><use href="#mo" x="425.8" y="194.8"/><use href="#mo" x="428" y="192.6"/><use href="#mo" x="430.2" y="190.3"/><use href="#mo" x="432.4" y="187.8"/><use href="#mo" x="434.6" y="184.8"/><use href="#mo" x="436.8" y="181.4"/><use href="#mo" x="439" y="177.9"/><use href="#mo" x="441.2" y="174.1"/><use href="#mo" x="443.4" y="170.3"/><use href="#mo" x="445.6" y="166.4"/><use href="#mo" x="447.8" y="162.7"/><use href="#mo" x="450" y="159.4"/><use href="#mo" x="452.2" y="156.5"/><use href="#mo" x="454.4" y="154.1"/><use href="#mo" x="456.6" y="152.1"/><use href="#mo" x="458.8" y="150.8"/><use href="#mo" x="461" y="149.8"/><use href="#mo" x="463.2" y="149.2"/><use href="#mo" x="465.4" y="149.2"/><use href="#mo" x="467.6" y="149.9"/><use href="#mo" x="469.8" y="151.3"/><use href="#mo" x="472" y="153.3"/><use href="#mo" x="474.2" y="156.3"/><use href="#mo" x="476.4" y="160.3"/><use href="#mo" x="478.6" y="164.6"/><use href="#mo" x="480.8" y="168.9"/><use href="#mo" x="483" y="173.4"/><use href="#mo" x="485.2" y="177.9"/><use href="#mo" x="487.4" y="182.4"/><use href="#mo" x="489.6" y="186.2"/><use href="#mo" x="491.8" y="189.5"/><use href="#mo" x="494" y="191.4"/><use href="#mo" x="496.2" y="191.7"/><use href="#mo" x="498.4" y="190.9"/><use href="#mo" x="500.6" y="189.2"/><use href="#mo" x="502.8" y="188.1"/><use href="#mo" x="505" y="187.5"/><use href="#mo" x="507.2" y="187.1"/><use href="#mo" x="509.4" y="186.7"/><use href="#mo" x="511.6" y="186.3"/><use href="#mo" x="513.8" y="185.9"/><use href="#mo" x="516" y="185.5"/><use href="#mo" x="518.2" y="185.3"/><use href="#mo" x="520.4" y="185.1"/><use href="#mo" x="522.6" y="184.5"/><use href="#mo" x="524.8" y="183.5"/><use href="#mo" x="527" y="182.2"/><use href="#mo" x="529.2" y="180.7"/><use href="#mo" x="531.4" y="179"/><use href="#mo" x="533.6" y="177.2"/><use href="#mo" x="535.8" y="175.2"/><use href="#mo" x="538" y="172.9"/><use href="#mo" x="540.2" y="170.3"/><use href="#mo" x="542.4" y="167"/><use href="#mo" x="544.6" y="163.2"/><use href="#mo" x="546.8" y="158.8"/><use href="#mo" x="549" y="154.1"/><use href="#mo" x="551.2" y="148.5"/><use href="#mo" x="553.4" y="142.1"/><use href="#mo" x="555.6" y="136.2"/><use href="#mo" x="557.8" y="130.5"/><use href="#mo" x="560" y="125.1"/><use href="#mo" x="562.2" y="120.7"/><use href="#mo" x="564.4" y="117.7"/><use href="#mo" x="566.6" y="115.7"/><use href="#mo" x="568.8" y="114.6"/><use href="#mo" x="571" y="114.4"/><use href="#mo" x="573.2" y="115.2"/><use href="#mo" x="575.4" y="116.9"/><use href="#mo" x="577.6" y="119.7"/><use href="#mo" x="579.8" y="123.8"/><use href="#mo" x="582" y="128.7"/><use href="#mo" x="584.2" y="133.9"/><use href="#mo" x="586.4" y="139.7"/><use href="#mo" x="588.6" y="145.8"/><use href="#mo" x="590.8" y="151.8"/><use href="#mo" x="593" y="157.8"/><use href="#mo" x="595.2" y="163.9"/><use href="#mo" x="597.4" y="169.4"/><use href="#mo" x="599.6" y="174.8"/><use href="#mo" x="601.8" y="179.7"/><use href="#mo" x="604" y="183"/><use href="#mo" x="606.2" y="184.5"/><use href="#mo" x="608.4" y="184.9"/><use href="#mo" x="610.6" y="184.8"/><use href="#mo" x="612.8" y="184.6"/><use href="#mo" x="615" y="184.5"/><use href="#mo" x="617.2" y="184.2"/><use href="#mo" x="619.4" y="183.7"/><use href="#mo" x="621.6" y="183.3"/><use href="#mo" x="623.8" y="183.2"/><use href="#mo" x="626" y="183.5"/><use href="#mo" x="628.2" y="184.3"/><use href="#mo" x="630.4" y="185.4"/><use href="#mo" x="632.6" y="186.7"/><use href="#mo" x="634.8" y="188"/><use href="#mo" x="637" y="189.2"/><use href="#mo" x="639.2" y="190.4"/><use href="#mo" x="641.4" y="191.5"/><use href="#mo" x="643.6" y="192.6"/><use href="#mo" x="645.8" y="193.7"/><use href="#mo" x="648" y="194.7"/><use href="#mo" x="650.2" y="195.7"/><use href="#mo" x="652.4" y="196.8"/><use href="#mo" x="654.6" y="197.8"/><use href="#mo" x="656.8" y="198.7"/><use href="#mo" x="659" y="199.4"/><use href="#mo" x="661.2" y="199.9"/><use href="#mo" x="663.4" y="200.2"/><use href="#mo" x="665.6" y="200.2"/><use href="#mo" x="667.8" y="200.2"/><use href="#mo" x="670" y="200"/><use href="#mo" x="672.2" y="199.8"/><use href="#mo" x="674.4" y="199.4"/><use href="#mo" x="676.6" y="198.8"/><use href="#mo" x="678.8" y="198"/></g>
<path d="M373 200.1h0.01M375.2 200.8h0.01M377.4 201.5h0.01M379.6 202.1h0.01M381.8 202.6h0.01M384 203.1h0.01M386.2 203.3h0.01M388.4 203.4h0.01M390.6 203.3h0.01M392.8 203.2h0.01M395 203h0.01M397.2 202.7h0.01M399.4 202.4h0.01M401.6 202.2h0.01M403.8 202h0.01M406 201.8h0.01M408.2 201.7h0.01M410.4 201.5h0.01M412.6 201.3h0.01M414.8 200.9h0.01M417 200.4h0.01M419.2 199.6h0.01M421.4 198.3h0.01M423.6 196.7h0.01M425.8 194.8h0.01M428 192.6h0.01M430.2 190.3h0.01M432.4 187.8h0.01M434.6 184.8h0.01M436.8 181.4h0.01M439 177.9h0.01M441.2 174.1h0.01M443.4 170.3h0.01M445.6 166.4h0.01M447.8 162.7h0.01M450 159.4h0.01M452.2 156.5h0.01M454.4 154.1h0.01M456.6 152.1h0.01M458.8 150.8h0.01M461 149.8h0.01M463.2 149.2h0.01M465.4 149.2h0.01M467.6 149.9h0.01M469.8 151.3h0.01M472 153.3h0.01M474.2 156.3h0.01M476.4 160.3h0.01M478.6 164.6h0.01M480.8 168.9h0.01M483 173.4h0.01M485.2 177.9h0.01M487.4 182.4h0.01M489.6 186.2h0.01M491.8 189.5h0.01M494 191.4h0.01M496.2 191.7h0.01M498.4 190.9h0.01M500.6 189.2h0.01M502.8 188.1h0.01M505 187.5h0.01M507.2 187.1h0.01M509.4 186.7h0.01M511.6 186.3h0.01M513.8 185.9h0.01M516 185.5h0.01M518.2 185.3h0.01M520.4 185.1h0.01M522.6 184.5h0.01M524.8 183.5h0.01M527 182.2h0.01M529.2 180.7h0.01M531.4 179h0.01M533.6 177.2h0.01M535.8 175.2h0.01M538 172.9h0.01M540.2 170.3h0.01M542.4 167h0.01M544.6 163.2h0.01M546.8 158.8h0.01M549 154.1h0.01M551.2 148.5h0.01M553.4 142.1h0.01M555.6 136.2h0.01M557.8 130.5h0.01M560 125.1h0.01M562.2 120.7h0.01M564.4 117.7h0.01M566.6 115.7h0.01M568.8 114.6h0.01M571 114.4h0.01M573.2 115.2h0.01M575.4 116.9h0.01M577.6 119.7h0.01M579.8 123.8h0.01M582 128.7h0.01M584.2 133.9h0.01M586.4 139.7h0.01M588.6 145.8h0.01M590.8 151.8h0.01M593 157.8h0.01M595.2 163.9h0.01M597.4 169.4h0.01M599.6 174.8h0.01M601.8 179.7h0.01M604 183h0.01M606.2 184.5h0.01M608.4 184.9h0.01M610.6 184.8h0.01M612.8 184.6h0.01M615 184.5h0.01M617.2 184.2h0.01M619.4 183.7h0.01M621.6 183.3h0.01M623.8 183.2h0.01M626 183.5h0.01M628.2 184.3h0.01M630.4 185.4h0.01M632.6 186.7h0.01M634.8 188h0.01M637 189.2h0.01M639.2 190.4h0.01M641.4 191.5h0.01M643.6 192.6h0.01M645.8 193.7h0.01M648 194.7h0.01M650.2 195.7h0.01M652.4 196.8h0.01M654.6 197.8h0.01M656.8 198.7h0.01M659 199.4h0.01M661.2 199.9h0.01M663.4 200.2h0.01M665.6 200.2h0.01M667.8 200.2h0.01M670 200h0.01M672.2 199.8h0.01M674.4 199.4h0.01M676.6 198.8h0.01M678.8 198h0.01" stroke="#f9b987" stroke-width="1.6" stroke-linecap="round"/>
<path d="M372 201.7C373.6 201.6 378.2 201.6 381.3 201C384.4 200.4 387.2 198.1 390.7 197.9C394.2 197.7 398.9 200.1 402.4 199.8C405.9 199.5 409 197 411.7 196.3C414.4 195.6 415.8 195.1 418.7 195.6C421.6 196.1 426.9 199.1 429.2 199.3C431.4 199.5 431 199.6 432.2 197C433.4 194.4 435.1 188 436.5 184C437.9 180 439.2 177.3 440.8 173.2C442.4 169.1 444.4 163.5 446.2 159.2C448 154.9 450 150.1 451.6 147.3C453.2 144.5 454.4 143.5 455.9 142.4C457.4 141.3 459.2 140.8 460.8 140.8C462.4 140.8 464.1 141.1 465.6 142.4C467.1 143.7 468.6 145.8 470 148.4C471.4 151 472.9 154.7 474.3 158.1C475.7 161.5 477.2 165.3 478.6 168.9C480 172.5 481.4 176.5 482.9 179.7C484.3 182.8 485.9 186.5 487.3 187.8C488.8 189.1 490 187.8 491.6 187.3C493.2 186.9 495.1 184.8 497 185.1C498.9 185.4 500.5 187.2 502.8 189.3C505.1 191.4 508.3 198.5 511 197.9C513.7 197.3 516.7 189.6 519.2 185.8C521.7 182 523.7 177.5 526.2 175.3C528.7 173.2 531.8 174.7 534.3 172.9C536.8 171.1 539 168.8 541.4 164.7C543.8 160.6 546.1 154.2 548.4 148.4C550.7 142.6 553.1 135.5 555.4 129.7C557.7 123.9 560.1 117.1 562.4 113.4C564.7 109.7 567.1 107.5 569.4 107.5C571.7 107.5 574.1 109.7 576.4 113.4C578.7 117.1 581.1 123.9 583.4 129.7C585.7 135.5 588.1 142.2 590.4 148.4C592.7 154.6 595.1 161.7 597.4 167.1C599.7 172.5 602.1 178 604.4 181.1C606.7 184.2 608.3 185.4 611.4 185.8C614.5 186.2 619.2 183 623.1 183.4C627 183.8 630.9 186.3 634.8 188.1C638.7 189.9 642.2 192.4 646.5 194C650.8 195.6 656.6 197.5 660.5 197.9C664.4 198.3 666.7 196.6 669.8 196.3C672.9 196 677.6 196.3 679.2 196.3" fill="none" stroke="#d95f0e" stroke-width="4" stroke-linecap="round" stroke-linejoin="round"/>
<g fill="none" stroke="#a3c0e2" stroke-width="1.6"><use href="#mo" x="373" y="295.8"/><use href="#mo" x="375.2" y="295.9"/><use href="#mo" x="377.4" y="296"/><use href="#mo" x="379.6" y="296.1"/><use href="#mo" x="381.8" y="296.2"/><use href="#mo" x="384" y="296.2"/><use href="#mo" x="386.2" y="296.2"/><use href="#mo" x="388.4" y="296.2"/><use href="#mo" x="390.6" y="296.2"/><use href="#mo" x="392.8" y="296.1"/><use href="#mo" x="395" y="296"/><use href="#mo" x="397.2" y="295.9"/><use href="#mo" x="399.4" y="295.7"/><use href="#mo" x="401.6" y="295.5"/><use href="#mo" x="403.8" y="295.3"/><use href="#mo" x="406" y="295.1"/><use href="#mo" x="408.2" y="294.8"/><use href="#mo" x="410.4" y="294.5"/><use href="#mo" x="412.6" y="294.1"/><use href="#mo" x="414.8" y="293.8"/><use href="#mo" x="417" y="293.5"/><use href="#mo" x="419.2" y="293.1"/><use href="#mo" x="421.4" y="292.6"/><use href="#mo" x="423.6" y="291.9"/><use href="#mo" x="425.8" y="291.1"/><use href="#mo" x="428" y="289.9"/><use href="#mo" x="430.2" y="288.3"/><use href="#mo" x="432.4" y="286.1"/><use href="#mo" x="434.6" y="283.5"/><use href="#mo" x="436.8" y="280.3"/><use href="#mo" x="439" y="276.1"/><use href="#mo" x="441.2" y="271.7"/><use href="#mo" x="443.4" y="267.9"/><use href="#mo" x="445.6" y="264.4"/><use href="#mo" x="447.8" y="261.2"/><use href="#mo" x="450" y="258.6"/><use href="#mo" x="452.2" y="256.4"/><use href="#mo" x="454.4" y="254.7"/><use href="#mo" x="456.6" y="253.5"/><use href="#mo" x="458.8" y="252.7"/><use href="#mo" x="461" y="252.4"/><use href="#mo" x="463.2" y="252.6"/><use href="#mo" x="465.4" y="253.1"/><use href="#mo" x="467.6" y="254.1"/><use href="#mo" x="469.8" y="255.8"/><use href="#mo" x="472" y="258.6"/><use href="#mo" x="474.2" y="262.3"/><use href="#mo" x="476.4" y="266.4"/><use href="#mo" x="478.6" y="270.7"/><use href="#mo" x="480.8" y="275.5"/><use href="#mo" x="483" y="280"/><use href="#mo" x="485.2" y="283.4"/><use href="#mo" x="487.4" y="286.1"/><use href="#mo" x="489.6" y="288"/><use href="#mo" x="491.8" y="288.9"/><use href="#mo" x="494" y="288.4"/><use href="#mo" x="496.2" y="287.2"/><use href="#mo" x="498.4" y="286.3"/><use href="#mo" x="500.6" y="285.7"/><use href="#mo" x="502.8" y="285.2"/><use href="#mo" x="505" y="284.7"/><use href="#mo" x="507.2" y="284.2"/><use href="#mo" x="509.4" y="283.7"/><use href="#mo" x="511.6" y="283.3"/><use href="#mo" x="513.8" y="282.9"/><use href="#mo" x="516" y="282.2"/><use href="#mo" x="518.2" y="281"/><use href="#mo" x="520.4" y="279.3"/><use href="#mo" x="522.6" y="277.4"/><use href="#mo" x="524.8" y="275.6"/><use href="#mo" x="527" y="274.3"/><use href="#mo" x="529.2" y="273.2"/><use href="#mo" x="531.4" y="272"/><use href="#mo" x="533.6" y="270.6"/><use href="#mo" x="535.8" y="268.7"/><use href="#mo" x="538" y="265.9"/><use href="#mo" x="540.2" y="261.9"/><use href="#mo" x="542.4" y="257.2"/><use href="#mo" x="544.6" y="252.1"/><use href="#mo" x="546.8" y="247.2"/><use href="#mo" x="549" y="242"/><use href="#mo" x="551.2" y="236.6"/><use href="#mo" x="553.4" y="231.9"/><use href="#mo" x="555.6" y="227.6"/><use href="#mo" x="557.8" y="223.9"/><use href="#mo" x="560" y="221"/><use href="#mo" x="562.2" y="218.8"/><use href="#mo" x="564.4" y="217.2"/><use href="#mo" x="566.6" y="216.2"/><use href="#mo" x="568.8" y="215.9"/><use href="#mo" x="571" y="216.1"/><use href="#mo" x="573.2" y="217"/><use href="#mo" x="575.4" y="218.8"/><use href="#mo" x="577.6" y="221.5"/><use href="#mo" x="579.8" y="225.2"/><use href="#mo" x="582" y="229.5"/><use href="#mo" x="584.2" y="234.1"/><use href="#mo" x="586.4" y="239"/><use href="#mo" x="588.6" y="244.6"/><use href="#mo" x="590.8" y="250.8"/><use href="#mo" x="593" y="256.9"/><use href="#mo" x="595.2" y="263.2"/><use href="#mo" x="597.4" y="269.5"/><use href="#mo" x="599.6" y="274.5"/><use href="#mo" x="601.8" y="278.1"/><use href="#mo" x="604" y="280.5"/><use href="#mo" x="606.2" y="281.6"/><use href="#mo" x="608.4" y="281.9"/><use href="#mo" x="610.6" y="281.4"/><use href="#mo" x="612.8" y="280.7"/><use href="#mo" x="615" y="280"/><use href="#mo" x="617.2" y="279.5"/><use href="#mo" x="619.4" y="279.4"/><use href="#mo" x="621.6" y="279.6"/><use href="#mo" x="623.8" y="279.9"/><use href="#mo" x="626" y="280.4"/><use href="#mo" x="628.2" y="281.1"/><use href="#mo" x="630.4" y="281.9"/><use href="#mo" x="632.6" y="282.8"/><use href="#mo" x="634.8" y="283.9"/><use href="#mo" x="637" y="285"/><use href="#mo" x="639.2" y="286.1"/><use href="#mo" x="641.4" y="287.3"/><use href="#mo" x="643.6" y="288.4"/><use href="#mo" x="645.8" y="289.5"/><use href="#mo" x="648" y="290.7"/><use href="#mo" x="650.2" y="291.9"/><use href="#mo" x="652.4" y="293.2"/><use href="#mo" x="654.6" y="294.5"/><use href="#mo" x="656.8" y="295.7"/><use href="#mo" x="659" y="296.8"/><use href="#mo" x="661.2" y="297.6"/><use href="#mo" x="663.4" y="298.2"/><use href="#mo" x="665.6" y="298.4"/><use href="#mo" x="667.8" y="298.4"/><use href="#mo" x="670" y="298.1"/><use href="#mo" x="672.2" y="297.8"/><use href="#mo" x="674.4" y="297.3"/><use href="#mo" x="676.6" y="296.9"/></g>
<path d="M373 295.8h0.01M375.2 295.9h0.01M377.4 296h0.01M379.6 296.1h0.01M381.8 296.2h0.01M384 296.2h0.01M386.2 296.2h0.01M388.4 296.2h0.01M390.6 296.2h0.01M392.8 296.1h0.01M395 296h0.01M397.2 295.9h0.01M399.4 295.7h0.01M401.6 295.5h0.01M403.8 295.3h0.01M406 295.1h0.01M408.2 294.8h0.01M410.4 294.5h0.01M412.6 294.1h0.01M414.8 293.8h0.01M417 293.5h0.01M419.2 293.1h0.01M421.4 292.6h0.01M423.6 291.9h0.01M425.8 291.1h0.01M428 289.9h0.01M430.2 288.3h0.01M432.4 286.1h0.01M434.6 283.5h0.01M436.8 280.3h0.01M439 276.1h0.01M441.2 271.7h0.01M443.4 267.9h0.01M445.6 264.4h0.01M447.8 261.2h0.01M450 258.6h0.01M452.2 256.4h0.01M454.4 254.7h0.01M456.6 253.5h0.01M458.8 252.7h0.01M461 252.4h0.01M463.2 252.6h0.01M465.4 253.1h0.01M467.6 254.1h0.01M469.8 255.8h0.01M472 258.6h0.01M474.2 262.3h0.01M476.4 266.4h0.01M478.6 270.7h0.01M480.8 275.5h0.01M483 280h0.01M485.2 283.4h0.01M487.4 286.1h0.01M489.6 288h0.01M491.8 288.9h0.01M494 288.4h0.01M496.2 287.2h0.01M498.4 286.3h0.01M500.6 285.7h0.01M502.8 285.2h0.01M505 284.7h0.01M507.2 284.2h0.01M509.4 283.7h0.01M511.6 283.3h0.01M513.8 282.9h0.01M516 282.2h0.01M518.2 281h0.01M520.4 279.3h0.01M522.6 277.4h0.01M524.8 275.6h0.01M527 274.3h0.01M529.2 273.2h0.01M531.4 272h0.01M533.6 270.6h0.01M535.8 268.7h0.01M538 265.9h0.01M540.2 261.9h0.01M542.4 257.2h0.01M544.6 252.1h0.01M546.8 247.2h0.01M549 242h0.01M551.2 236.6h0.01M553.4 231.9h0.01M555.6 227.6h0.01M557.8 223.9h0.01M560 221h0.01M562.2 218.8h0.01M564.4 217.2h0.01M566.6 216.2h0.01M568.8 215.9h0.01M571 216.1h0.01M573.2 217h0.01M575.4 218.8h0.01M577.6 221.5h0.01M579.8 225.2h0.01M582 229.5h0.01M584.2 234.1h0.01M586.4 239h0.01M588.6 244.6h0.01M590.8 250.8h0.01M593 256.9h0.01M595.2 263.2h0.01M597.4 269.5h0.01M599.6 274.5h0.01M601.8 278.1h0.01M604 280.5h0.01M606.2 281.6h0.01M608.4 281.9h0.01M610.6 281.4h0.01M612.8 280.7h0.01M615 280h0.01M617.2 279.5h0.01M619.4 279.4h0.01M621.6 279.6h0.01M623.8 279.9h0.01M626 280.4h0.01M628.2 281.1h0.01M630.4 281.9h0.01M632.6 282.8h0.01M634.8 283.9h0.01M637 285h0.01M639.2 286.1h0.01M641.4 287.3h0.01M643.6 288.4h0.01M645.8 289.5h0.01M648 290.7h0.01M650.2 291.9h0.01M652.4 293.2h0.01M654.6 294.5h0.01M656.8 295.7h0.01M659 296.8h0.01M661.2 297.6h0.01M663.4 298.2h0.01M665.6 298.4h0.01M667.8 298.4h0.01M670 298.1h0.01M672.2 297.8h0.01M674.4 297.3h0.01M676.6 296.9h0.01" stroke="#a3c0e2" stroke-width="1.6" stroke-linecap="round"/>
<path d="M372 295.8C374.3 295.8 381.3 295.9 386 295.8C390.7 295.7 395.3 295.5 400 295.3C404.7 295.1 409.3 295.1 414 294.8C418.7 294.5 424.6 294.6 428.1 293.4C431.6 292.2 432.8 290.7 435.1 287.6C437.4 284.5 439.8 279 442.1 274.7C444.4 270.4 446.8 265.4 449.1 261.9C451.4 258.4 453.8 255.6 456.1 253.7C458.4 251.8 461 250.6 463.1 250.2C465.2 249.8 466.9 250 468.9 251.4C470.8 252.8 472.6 254.9 474.8 258.4C477 261.9 479.5 267.7 481.8 272.4C484.1 277.1 486.7 282.9 488.8 286.4C490.9 289.9 492.7 293.2 494.6 293.4C496.6 293.6 498.4 289.4 500.5 287.6C502.6 285.9 504.8 283.9 507.5 282.9C510.2 281.9 513.7 282.1 516.8 281.8C519.9 281.5 523.7 281.5 526.2 281.3C528.7 281.1 529.9 282.3 532 280.4C534.1 278.5 536.7 274.6 539 270.1C541.3 265.7 543.7 259.1 546 253.7C548.3 248.2 550.7 242.4 553 237.4C555.3 232.4 557.5 226.7 560 223.4C562.5 220.1 565.7 217.9 568.2 217.5C570.7 217.1 572.9 218.1 575.2 221C577.5 223.9 579.9 229.6 582.2 235C584.5 240.4 586.9 247.5 589.2 253.7C591.5 259.9 593.7 267.2 596.2 272.4C598.7 277.5 601.5 283.2 604.4 284.6C607.3 286 610.7 281.5 613.8 280.6C616.9 279.7 619.6 278.8 623.1 279.4C626.6 280 630.5 282.2 634.8 284.1C639.1 286.1 644.1 289.2 648.8 291.1C653.5 293.1 658.1 295 662.8 295.8C667.5 296.6 674.5 295.8 676.8 295.8" fill="none" stroke="#8a55ad" stroke-width="4" stroke-linecap="round" stroke-linejoin="round"/>
<g fill="none" stroke="#9fdcc8" stroke-width="1.6"><use href="#mo" x="373" y="390.2"/><use href="#mo" x="375.2" y="390"/><use href="#mo" x="377.4" y="389.8"/><use href="#mo" x="379.6" y="389.6"/><use href="#mo" x="381.8" y="389.4"/><use href="#mo" x="384" y="389.2"/><use href="#mo" x="386.2" y="389"/><use href="#mo" x="388.4" y="388.8"/><use href="#mo" x="390.6" y="388.7"/><use href="#mo" x="392.8" y="388.5"/><use href="#mo" x="395" y="388.4"/><use href="#mo" x="397.2" y="388.4"/><use href="#mo" x="399.4" y="388.4"/><use href="#mo" x="401.6" y="388.4"/><use href="#mo" x="403.8" y="388.5"/><use href="#mo" x="406" y="388.6"/><use href="#mo" x="408.2" y="388.7"/><use href="#mo" x="410.4" y="388.8"/><use href="#mo" x="412.6" y="388.9"/><use href="#mo" x="414.8" y="388.8"/><use href="#mo" x="417" y="388.7"/><use href="#mo" x="419.2" y="388.3"/><use href="#mo" x="421.4" y="387.7"/><use href="#mo" x="423.6" y="386.8"/><use href="#mo" x="425.8" y="385.5"/><use href="#mo" x="428" y="383.7"/><use href="#mo" x="430.2" y="381.6"/><use href="#mo" x="432.4" y="379"/><use href="#mo" x="434.6" y="375.7"/><use href="#mo" x="436.8" y="372"/><use href="#mo" x="439" y="368.4"/><use href="#mo" x="441.2" y="365.2"/><use href="#mo" x="443.4" y="362.1"/><use href="#mo" x="445.6" y="359.1"/><use href="#mo" x="447.8" y="356.2"/><use href="#mo" x="450" y="353.5"/><use href="#mo" x="452.2" y="351.1"/><use href="#mo" x="454.4" y="348.8"/><use href="#mo" x="456.6" y="346.7"/><use href="#mo" x="458.8" y="344.9"/><use href="#mo" x="461" y="343.4"/><use href="#mo" x="463.2" y="342.8"/><use href="#mo" x="465.4" y="343.2"/><use href="#mo" x="467.6" y="344.3"/><use href="#mo" x="469.8" y="346"/><use href="#mo" x="472" y="348.5"/><use href="#mo" x="474.2" y="351.7"/><use href="#mo" x="476.4" y="355.6"/><use href="#mo" x="478.6" y="359.8"/><use href="#mo" x="480.8" y="364.7"/><use href="#mo" x="483" y="369.8"/><use href="#mo" x="485.2" y="374.2"/><use href="#mo" x="487.4" y="378"/><use href="#mo" x="489.6" y="381"/><use href="#mo" x="491.8" y="382.5"/><use href="#mo" x="494" y="382.5"/><use href="#mo" x="496.2" y="381.5"/><use href="#mo" x="498.4" y="380.1"/><use href="#mo" x="500.6" y="378.8"/><use href="#mo" x="502.8" y="377.9"/><use href="#mo" x="505" y="377.5"/><use href="#mo" x="507.2" y="377.3"/><use href="#mo" x="509.4" y="377.3"/><use href="#mo" x="511.6" y="377.2"/><use href="#mo" x="513.8" y="376.9"/><use href="#mo" x="516" y="376.4"/><use href="#mo" x="518.2" y="375.8"/><use href="#mo" x="520.4" y="375.1"/><use href="#mo" x="522.6" y="374.2"/><use href="#mo" x="524.8" y="373.1"/><use href="#mo" x="527" y="372"/><use href="#mo" x="529.2" y="370.8"/><use href="#mo" x="531.4" y="369.4"/><use href="#mo" x="533.6" y="367.9"/><use href="#mo" x="535.8" y="366"/><use href="#mo" x="538" y="363.7"/><use href="#mo" x="540.2" y="361"/><use href="#mo" x="542.4" y="358"/><use href="#mo" x="544.6" y="354.8"/><use href="#mo" x="546.8" y="351.3"/><use href="#mo" x="549" y="347.7"/><use href="#mo" x="551.2" y="343.5"/><use href="#mo" x="553.4" y="338.8"/><use href="#mo" x="555.6" y="334.1"/><use href="#mo" x="557.8" y="329.8"/><use href="#mo" x="560" y="326.3"/><use href="#mo" x="562.2" y="323.4"/><use href="#mo" x="564.4" y="321"/><use href="#mo" x="566.6" y="318.9"/><use href="#mo" x="568.8" y="317.5"/><use href="#mo" x="571" y="317.2"/><use href="#mo" x="573.2" y="317.8"/><use href="#mo" x="575.4" y="319.3"/><use href="#mo" x="577.6" y="321.9"/><use href="#mo" x="579.8" y="325.8"/><use href="#mo" x="582" y="330.6"/><use href="#mo" x="584.2" y="335.8"/><use href="#mo" x="586.4" y="341.1"/><use href="#mo" x="588.6" y="347.2"/><use href="#mo" x="590.8" y="353.4"/><use href="#mo" x="593" y="358.7"/><use href="#mo" x="595.2" y="363.2"/><use href="#mo" x="597.4" y="366.9"/><use href="#mo" x="599.6" y="369.6"/><use href="#mo" x="601.8" y="371.5"/><use href="#mo" x="604" y="372.8"/><use href="#mo" x="606.2" y="373.7"/><use href="#mo" x="608.4" y="374.3"/><use href="#mo" x="610.6" y="374.6"/><use href="#mo" x="612.8" y="374.5"/><use href="#mo" x="615" y="374.3"/><use href="#mo" x="617.2" y="374.1"/><use href="#mo" x="619.4" y="374"/><use href="#mo" x="621.6" y="374.1"/><use href="#mo" x="623.8" y="374.6"/><use href="#mo" x="626" y="375.4"/><use href="#mo" x="628.2" y="376.5"/><use href="#mo" x="630.4" y="377.7"/><use href="#mo" x="632.6" y="379"/><use href="#mo" x="634.8" y="380.2"/><use href="#mo" x="637" y="381.4"/><use href="#mo" x="639.2" y="382.4"/><use href="#mo" x="641.4" y="383.4"/><use href="#mo" x="643.6" y="384.5"/><use href="#mo" x="645.8" y="385.5"/><use href="#mo" x="648" y="386.4"/><use href="#mo" x="650.2" y="387.3"/><use href="#mo" x="652.4" y="388.1"/><use href="#mo" x="654.6" y="388.7"/><use href="#mo" x="656.8" y="389.3"/><use href="#mo" x="659" y="389.8"/><use href="#mo" x="661.2" y="390.2"/><use href="#mo" x="663.4" y="390.5"/><use href="#mo" x="665.6" y="390.8"/><use href="#mo" x="667.8" y="391.1"/><use href="#mo" x="670" y="391.2"/><use href="#mo" x="672.2" y="391.1"/><use href="#mo" x="674.4" y="390.8"/><use href="#mo" x="676.6" y="390.3"/><use href="#mo" x="678.8" y="389.7"/></g>
<path d="M373 390.2h0.01M375.2 390h0.01M377.4 389.8h0.01M379.6 389.6h0.01M381.8 389.4h0.01M384 389.2h0.01M386.2 389h0.01M388.4 388.8h0.01M390.6 388.7h0.01M392.8 388.5h0.01M395 388.4h0.01M397.2 388.4h0.01M399.4 388.4h0.01M401.6 388.4h0.01M403.8 388.5h0.01M406 388.6h0.01M408.2 388.7h0.01M410.4 388.8h0.01M412.6 388.9h0.01M414.8 388.8h0.01M417 388.7h0.01M419.2 388.3h0.01M421.4 387.7h0.01M423.6 386.8h0.01M425.8 385.5h0.01M428 383.7h0.01M430.2 381.6h0.01M432.4 379h0.01M434.6 375.7h0.01M436.8 372h0.01M439 368.4h0.01M441.2 365.2h0.01M443.4 362.1h0.01M445.6 359.1h0.01M447.8 356.2h0.01M450 353.5h0.01M452.2 351.1h0.01M454.4 348.8h0.01M456.6 346.7h0.01M458.8 344.9h0.01M461 343.4h0.01M463.2 342.8h0.01M465.4 343.2h0.01M467.6 344.3h0.01M469.8 346h0.01M472 348.5h0.01M474.2 351.7h0.01M476.4 355.6h0.01M478.6 359.8h0.01M480.8 364.7h0.01M483 369.8h0.01M485.2 374.2h0.01M487.4 378h0.01M489.6 381h0.01M491.8 382.5h0.01M494 382.5h0.01M496.2 381.5h0.01M498.4 380.1h0.01M500.6 378.8h0.01M502.8 377.9h0.01M505 377.5h0.01M507.2 377.3h0.01M509.4 377.3h0.01M511.6 377.2h0.01M513.8 376.9h0.01M516 376.4h0.01M518.2 375.8h0.01M520.4 375.1h0.01M522.6 374.2h0.01M524.8 373.1h0.01M527 372h0.01M529.2 370.8h0.01M531.4 369.4h0.01M533.6 367.9h0.01M535.8 366h0.01M538 363.7h0.01M540.2 361h0.01M542.4 358h0.01M544.6 354.8h0.01M546.8 351.3h0.01M549 347.7h0.01M551.2 343.5h0.01M553.4 338.8h0.01M555.6 334.1h0.01M557.8 329.8h0.01M560 326.3h0.01M562.2 323.4h0.01M564.4 321h0.01M566.6 318.9h0.01M568.8 317.5h0.01M571 317.2h0.01M573.2 317.8h0.01M575.4 319.3h0.01M577.6 321.9h0.01M579.8 325.8h0.01M582 330.6h0.01M584.2 335.8h0.01M586.4 341.1h0.01M588.6 347.2h0.01M590.8 353.4h0.01M593 358.7h0.01M595.2 363.2h0.01M597.4 366.9h0.01M599.6 369.6h0.01M601.8 371.5h0.01M604 372.8h0.01M606.2 373.7h0.01M608.4 374.3h0.01M610.6 374.6h0.01M612.8 374.5h0.01M615 374.3h0.01M617.2 374.1h0.01M619.4 374h0.01M621.6 374.1h0.01M623.8 374.6h0.01M626 375.4h0.01M628.2 376.5h0.01M630.4 377.7h0.01M632.6 379h0.01M634.8 380.2h0.01M637 381.4h0.01M639.2 382.4h0.01M641.4 383.4h0.01M643.6 384.5h0.01M645.8 385.5h0.01M648 386.4h0.01M650.2 387.3h0.01M652.4 388.1h0.01M654.6 388.7h0.01M656.8 389.3h0.01M659 389.8h0.01M661.2 390.2h0.01M663.4 390.5h0.01M665.6 390.8h0.01M667.8 391.1h0.01M670 391.2h0.01M672.2 391.1h0.01M674.4 390.8h0.01M676.6 390.3h0.01M678.8 389.7h0.01" stroke="#9fdcc8" stroke-width="1.6" stroke-linecap="round"/>
<path d="M372 390.8C374.3 390.8 380.9 391 386 390.8C391.1 390.6 396.9 389.5 402.4 389.6C407.8 389.7 414.4 392 418.7 391.2C423 390.4 425 388.5 428.1 384.9C431.2 381.3 434.3 374.6 437.4 369.7C440.5 364.8 443.6 359.4 446.7 355.7C449.8 352 453.4 349.2 456.1 347.6C458.8 346 460.8 345.5 463.1 345.9C465.4 346.3 467.8 347.5 470.1 349.9C472.4 352.3 474.8 356.7 477.1 360.4C479.4 364.1 481.8 368.6 484.1 372.1C486.4 375.6 488.8 379.8 491.1 381.4C493.4 382.9 495.8 381.8 498.1 381.4C500.4 381 502.4 379.5 505.1 379.1C507.8 378.7 511.4 379.9 514.5 379.1C517.6 378.3 520.5 376.7 523.8 374.4C527.1 372.1 531 368.6 534.3 365.1C537.6 361.6 541 357.7 543.7 353.4C546.4 349.1 548.4 344.1 550.7 339.4C553 334.7 555.4 329.5 557.7 325.4C560 321.3 562.6 317 564.7 314.9C566.9 312.8 568.5 312.1 570.6 312.5C572.8 312.9 575.3 314.3 577.6 317.2C579.9 320.1 582.3 324.8 584.6 330C586.9 335.2 589.3 343.1 591.6 348.7C593.9 354.3 596.1 359.8 598.6 363.9C601.1 368 603.5 371.6 606.8 373.3C610.1 375.1 614.9 374 618.4 374.4C621.9 374.8 623.9 374.6 627.8 375.6C631.7 376.6 637.1 378.6 641.8 380.3C646.5 382.1 651.1 384.6 655.8 386.1C660.5 387.7 665.9 388.8 669.8 389.6C673.7 390.4 677.6 390.6 679.2 390.8" fill="none" stroke="#27a25e" stroke-width="4" stroke-linecap="round" stroke-linejoin="round"/>
<g fill="none" stroke="#f5a3b9" stroke-width="1.6"><use href="#mo" x="373" y="484.3"/><use href="#mo" x="375.2" y="483.5"/><use href="#mo" x="377.4" y="482.8"/><use href="#mo" x="379.6" y="482.1"/><use href="#mo" x="381.8" y="481.5"/><use href="#mo" x="384" y="481.1"/><use href="#mo" x="386.2" y="480.8"/><use href="#mo" x="388.4" y="480.8"/><use href="#mo" x="390.6" y="480.8"/><use href="#mo" x="392.8" y="480.7"/><use href="#mo" x="395" y="480.6"/><use href="#mo" x="397.2" y="480.1"/><use href="#mo" x="399.4" y="479"/><use href="#mo" x="401.6" y="477.3"/><use href="#mo" x="403.8" y="475"/><use href="#mo" x="406" y="472.7"/><use href="#mo" x="408.2" y="470.8"/><use href="#mo" x="410.4" y="469"/><use href="#mo" x="412.6" y="467.3"/><use href="#mo" x="414.8" y="465.7"/><use href="#mo" x="417" y="464.3"/><use href="#mo" x="419.2" y="463.2"/><use href="#mo" x="421.4" y="462.2"/><use href="#mo" x="423.6" y="461.2"/><use href="#mo" x="425.8" y="460.2"/><use href="#mo" x="428" y="459"/><use href="#mo" x="430.2" y="457.6"/><use href="#mo" x="432.4" y="456.1"/><use href="#mo" x="434.6" y="454.5"/><use href="#mo" x="436.8" y="452.5"/><use href="#mo" x="439" y="450.1"/><use href="#mo" x="441.2" y="447.3"/><use href="#mo" x="443.4" y="444.3"/><use href="#mo" x="445.6" y="441.4"/><use href="#mo" x="447.8" y="439"/><use href="#mo" x="450" y="436.9"/><use href="#mo" x="452.2" y="434.9"/><use href="#mo" x="454.4" y="433.1"/><use href="#mo" x="456.6" y="431.7"/><use href="#mo" x="458.8" y="430.8"/><use href="#mo" x="461" y="430.5"/><use href="#mo" x="463.2" y="430.9"/><use href="#mo" x="465.4" y="432.1"/><use href="#mo" x="467.6" y="433.9"/><use href="#mo" x="469.8" y="436.3"/><use href="#mo" x="472" y="439.3"/><use href="#mo" x="474.2" y="442.9"/><use href="#mo" x="476.4" y="447"/><use href="#mo" x="478.6" y="451.7"/><use href="#mo" x="480.8" y="457"/><use href="#mo" x="483" y="462.3"/><use href="#mo" x="485.2" y="467"/><use href="#mo" x="487.4" y="471.5"/><use href="#mo" x="489.6" y="475"/><use href="#mo" x="491.8" y="476.7"/><use href="#mo" x="494" y="476.8"/><use href="#mo" x="496.2" y="476.2"/><use href="#mo" x="498.4" y="475.5"/><use href="#mo" x="500.6" y="475.3"/><use href="#mo" x="502.8" y="475.8"/><use href="#mo" x="505" y="476.7"/><use href="#mo" x="507.2" y="477.7"/><use href="#mo" x="509.4" y="478.6"/><use href="#mo" x="511.6" y="479.5"/><use href="#mo" x="513.8" y="480.5"/><use href="#mo" x="516" y="481.5"/><use href="#mo" x="518.2" y="482.1"/><use href="#mo" x="520.4" y="482.3"/><use href="#mo" x="522.6" y="481.9"/><use href="#mo" x="524.8" y="481.2"/><use href="#mo" x="527" y="480.5"/><use href="#mo" x="529.2" y="479.9"/><use href="#mo" x="531.4" y="479.8"/><use href="#mo" x="533.6" y="480.7"/><use href="#mo" x="535.8" y="482.3"/><use href="#mo" x="538" y="483.8"/><use href="#mo" x="540.2" y="484.7"/><use href="#mo" x="542.4" y="484"/><use href="#mo" x="544.6" y="481.2"/><use href="#mo" x="546.8" y="477"/><use href="#mo" x="549" y="473.1"/><use href="#mo" x="551.2" y="469"/><use href="#mo" x="553.4" y="464.8"/><use href="#mo" x="555.6" y="460.9"/><use href="#mo" x="557.8" y="457.6"/><use href="#mo" x="560" y="455"/><use href="#mo" x="562.2" y="452.9"/><use href="#mo" x="564.4" y="451.2"/><use href="#mo" x="566.6" y="449.8"/><use href="#mo" x="568.8" y="448.7"/><use href="#mo" x="571" y="447.9"/><use href="#mo" x="573.2" y="447.4"/><use href="#mo" x="575.4" y="447.2"/><use href="#mo" x="577.6" y="447.3"/><use href="#mo" x="579.8" y="447.8"/><use href="#mo" x="582" y="448.6"/><use href="#mo" x="584.2" y="449.7"/><use href="#mo" x="586.4" y="451.2"/><use href="#mo" x="588.6" y="453.1"/><use href="#mo" x="590.8" y="455.3"/><use href="#mo" x="593" y="457.7"/><use href="#mo" x="595.2" y="460.2"/><use href="#mo" x="597.4" y="463"/><use href="#mo" x="599.6" y="466"/><use href="#mo" x="601.8" y="469"/><use href="#mo" x="604" y="471.4"/><use href="#mo" x="606.2" y="473.2"/><use href="#mo" x="608.4" y="474.6"/><use href="#mo" x="610.6" y="475.6"/><use href="#mo" x="612.8" y="476.2"/><use href="#mo" x="615" y="476.5"/><use href="#mo" x="617.2" y="476.4"/><use href="#mo" x="619.4" y="476.1"/><use href="#mo" x="621.6" y="475.7"/><use href="#mo" x="623.8" y="475.4"/><use href="#mo" x="626" y="475.3"/><use href="#mo" x="628.2" y="475.4"/><use href="#mo" x="630.4" y="475.5"/><use href="#mo" x="632.6" y="475.7"/><use href="#mo" x="634.8" y="476"/><use href="#mo" x="637" y="476.4"/><use href="#mo" x="639.2" y="476.8"/><use href="#mo" x="641.4" y="477.4"/><use href="#mo" x="643.6" y="477.9"/><use href="#mo" x="645.8" y="478.5"/><use href="#mo" x="648" y="479.1"/><use href="#mo" x="650.2" y="479.7"/><use href="#mo" x="652.4" y="480.2"/><use href="#mo" x="654.6" y="480.7"/><use href="#mo" x="656.8" y="481.3"/><use href="#mo" x="659" y="481.8"/><use href="#mo" x="661.2" y="482.2"/><use href="#mo" x="663.4" y="482.7"/><use href="#mo" x="665.6" y="483.1"/><use href="#mo" x="667.8" y="483.4"/><use href="#mo" x="670" y="483.7"/><use href="#mo" x="672.2" y="483.9"/><use href="#mo" x="674.4" y="484.1"/><use href="#mo" x="676.6" y="484.3"/><use href="#mo" x="678.8" y="484.6"/></g>
<path d="M373 484.3h0.01M375.2 483.5h0.01M377.4 482.8h0.01M379.6 482.1h0.01M381.8 481.5h0.01M384 481.1h0.01M386.2 480.8h0.01M388.4 480.8h0.01M390.6 480.8h0.01M392.8 480.7h0.01M395 480.6h0.01M397.2 480.1h0.01M399.4 479h0.01M401.6 477.3h0.01M403.8 475h0.01M406 472.7h0.01M408.2 470.8h0.01M410.4 469h0.01M412.6 467.3h0.01M414.8 465.7h0.01M417 464.3h0.01M419.2 463.2h0.01M421.4 462.2h0.01M423.6 461.2h0.01M425.8 460.2h0.01M428 459h0.01M430.2 457.6h0.01M432.4 456.1h0.01M434.6 454.5h0.01M436.8 452.5h0.01M439 450.1h0.01M441.2 447.3h0.01M443.4 444.3h0.01M445.6 441.4h0.01M447.8 439h0.01M450 436.9h0.01M452.2 434.9h0.01M454.4 433.1h0.01M456.6 431.7h0.01M458.8 430.8h0.01M461 430.5h0.01M463.2 430.9h0.01M465.4 432.1h0.01M467.6 433.9h0.01M469.8 436.3h0.01M472 439.3h0.01M474.2 442.9h0.01M476.4 447h0.01M478.6 451.7h0.01M480.8 457h0.01M483 462.3h0.01M485.2 467h0.01M487.4 471.5h0.01M489.6 475h0.01M491.8 476.7h0.01M494 476.8h0.01M496.2 476.2h0.01M498.4 475.5h0.01M500.6 475.3h0.01M502.8 475.8h0.01M505 476.7h0.01M507.2 477.7h0.01M509.4 478.6h0.01M511.6 479.5h0.01M513.8 480.5h0.01M516 481.5h0.01M518.2 482.1h0.01M520.4 482.3h0.01M522.6 481.9h0.01M524.8 481.2h0.01M527 480.5h0.01M529.2 479.9h0.01M531.4 479.8h0.01M533.6 480.7h0.01M535.8 482.3h0.01M538 483.8h0.01M540.2 484.7h0.01M542.4 484h0.01M544.6 481.2h0.01M546.8 477h0.01M549 473.1h0.01M551.2 469h0.01M553.4 464.8h0.01M555.6 460.9h0.01M557.8 457.6h0.01M560 455h0.01M562.2 452.9h0.01M564.4 451.2h0.01M566.6 449.8h0.01M568.8 448.7h0.01M571 447.9h0.01M573.2 447.4h0.01M575.4 447.2h0.01M577.6 447.3h0.01M579.8 447.8h0.01M582 448.6h0.01M584.2 449.7h0.01M586.4 451.2h0.01M588.6 453.1h0.01M590.8 455.3h0.01M593 457.7h0.01M595.2 460.2h0.01M597.4 463h0.01M599.6 466h0.01M601.8 469h0.01M604 471.4h0.01M606.2 473.2h0.01M608.4 474.6h0.01M610.6 475.6h0.01M612.8 476.2h0.01M615 476.5h0.01M617.2 476.4h0.01M619.4 476.1h0.01M621.6 475.7h0.01M623.8 475.4h0.01M626 475.3h0.01M628.2 475.4h0.01M630.4 475.5h0.01M632.6 475.7h0.01M634.8 476h0.01M637 476.4h0.01M639.2 476.8h0.01M641.4 477.4h0.01M643.6 477.9h0.01M645.8 478.5h0.01M648 479.1h0.01M650.2 479.7h0.01M652.4 480.2h0.01M654.6 480.7h0.01M656.8 481.3h0.01M659 481.8h0.01M661.2 482.2h0.01M663.4 482.7h0.01M665.6 483.1h0.01M667.8 483.4h0.01M670 483.7h0.01M672.2 483.9h0.01M674.4 484.1h0.01M676.6 484.3h0.01M678.8 484.6h0.01" stroke="#f5a3b9" stroke-width="1.6" stroke-linecap="round"/>
<path d="M372 485.8C374.3 485.8 381.3 486 386 485.8C390.7 485.6 395.7 485 400 484.6C404.3 484.2 408.4 483.2 411.7 483.4C415 483.6 417.2 487 419.9 485.8C422.6 484.6 425.2 480.3 428.1 476.4C431 472.5 434.3 466.7 437.4 462.4C440.5 458.1 443.6 453.6 446.7 450.7C449.8 447.8 453.4 445.7 456.1 444.9C458.8 444.1 460.8 444.7 463.1 446.1C465.4 447.5 467.4 450 470.1 453.1C472.8 456.2 476.4 461.4 479.5 464.7C482.6 468 485.7 471.1 488.8 472.9C491.9 474.7 495 475.3 498.1 475.3C501.2 475.3 504 474.1 507.5 472.9C511 471.7 515.8 469.6 519.2 468.3C522.6 467 525.5 466 528 465C530.5 464 531.7 464.8 534.3 462.4C536.9 460 541 455 543.7 450.7C546.4 446.4 548.4 441 550.7 436.7C553 432.4 555.4 428 557.7 425C560 422 562.6 419.7 564.7 418.5C566.9 417.3 568.5 416.9 570.6 417.6C572.8 418.3 575.3 419.9 577.6 422.7C579.9 425.5 582.3 429.7 584.6 434.4C586.9 439.1 589.3 445.8 591.6 450.7C593.9 455.6 596.1 460.2 598.6 463.6C601.1 467 603.5 469.9 606.8 471.3C610.1 472.7 614.9 471.5 618.4 471.8C621.9 472.1 623.9 471.9 627.8 472.9C631.7 473.9 637.1 476 641.8 477.6C646.5 479.2 651.1 480.9 655.8 482.3C660.5 483.7 665.9 485.2 669.8 485.8C673.7 486.4 677.6 485.8 679.2 485.8" fill="none" stroke="#c7128c" stroke-width="4" stroke-linecap="round" stroke-linejoin="round"/>
<g fill="none" stroke="#a9bee0" stroke-width="1.6"><use href="#mo" x="373" y="585.8"/><use href="#mo" x="375.2" y="585.8"/><use href="#mo" x="377.4" y="585.8"/><use href="#mo" x="379.6" y="585.8"/><use href="#mo" x="381.8" y="585.8"/><use href="#mo" x="384" y="585.8"/><use href="#mo" x="386.2" y="585.8"/><use href="#mo" x="388.4" y="585.7"/><use href="#mo" x="390.6" y="585.7"/><use href="#mo" x="392.8" y="585.6"/><use href="#mo" x="395" y="585.5"/><use href="#mo" x="397.2" y="585.4"/><use href="#mo" x="399.4" y="585.3"/><use href="#mo" x="401.6" y="585.3"/><use href="#mo" x="403.8" y="585.2"/><use href="#mo" x="406" y="585.2"/><use href="#mo" x="408.2" y="585.2"/><use href="#mo" x="410.4" y="585.2"/><use href="#mo" x="412.6" y="585.1"/><use href="#mo" x="414.8" y="584.9"/><use href="#mo" x="417" y="584.5"/><use href="#mo" x="419.2" y="583.8"/><use href="#mo" x="421.4" y="582.9"/><use href="#mo" x="423.6" y="581.5"/><use href="#mo" x="425.8" y="579.8"/><use href="#mo" x="428" y="577.8"/><use href="#mo" x="430.2" y="575.3"/><use href="#mo" x="432.4" y="572.7"/><use href="#mo" x="434.6" y="570"/><use href="#mo" x="436.8" y="567.3"/><use href="#mo" x="439" y="564.5"/><use href="#mo" x="441.2" y="561.6"/><use href="#mo" x="443.4" y="558.9"/><use href="#mo" x="445.6" y="556.4"/><use href="#mo" x="447.8" y="554"/><use href="#mo" x="450" y="551.8"/><use href="#mo" x="452.2" y="549.8"/><use href="#mo" x="454.4" y="547.9"/><use href="#mo" x="456.6" y="546.2"/><use href="#mo" x="458.8" y="544.7"/><use href="#mo" x="461" y="543.5"/><use href="#mo" x="463.2" y="542.6"/><use href="#mo" x="465.4" y="542.2"/><use href="#mo" x="467.6" y="542.4"/><use href="#mo" x="469.8" y="543.5"/><use href="#mo" x="472" y="545.6"/><use href="#mo" x="474.2" y="548.6"/><use href="#mo" x="476.4" y="552"/><use href="#mo" x="478.6" y="555.5"/><use href="#mo" x="480.8" y="559.4"/><use href="#mo" x="483" y="563.1"/><use href="#mo" x="485.2" y="566.3"/><use href="#mo" x="487.4" y="569.4"/><use href="#mo" x="489.6" y="572.1"/><use href="#mo" x="491.8" y="573.8"/><use href="#mo" x="494" y="574.5"/><use href="#mo" x="496.2" y="574.4"/><use href="#mo" x="498.4" y="574"/><use href="#mo" x="500.6" y="573.4"/><use href="#mo" x="502.8" y="572.9"/><use href="#mo" x="505" y="572.6"/><use href="#mo" x="507.2" y="572.3"/><use href="#mo" x="509.4" y="571.9"/><use href="#mo" x="511.6" y="571.5"/><use href="#mo" x="513.8" y="570.8"/><use href="#mo" x="516" y="570"/><use href="#mo" x="518.2" y="568.8"/><use href="#mo" x="520.4" y="567.4"/><use href="#mo" x="522.6" y="566"/><use href="#mo" x="524.8" y="564.6"/><use href="#mo" x="527" y="563.4"/><use href="#mo" x="529.2" y="562.4"/><use href="#mo" x="531.4" y="561.4"/><use href="#mo" x="533.6" y="560.1"/><use href="#mo" x="535.8" y="558.5"/><use href="#mo" x="538" y="556.3"/><use href="#mo" x="540.2" y="553.5"/><use href="#mo" x="542.4" y="550.1"/><use href="#mo" x="544.6" y="546.3"/><use href="#mo" x="546.8" y="542.1"/><use href="#mo" x="549" y="537.3"/><use href="#mo" x="551.2" y="531.8"/><use href="#mo" x="553.4" y="526.5"/><use href="#mo" x="555.6" y="521"/><use href="#mo" x="557.8" y="515.6"/><use href="#mo" x="560" y="511"/><use href="#mo" x="562.2" y="507.6"/><use href="#mo" x="564.4" y="505.1"/><use href="#mo" x="566.6" y="503.1"/><use href="#mo" x="568.8" y="501.7"/><use href="#mo" x="571" y="501.3"/><use href="#mo" x="573.2" y="501.8"/><use href="#mo" x="575.4" y="502.8"/><use href="#mo" x="577.6" y="504.5"/><use href="#mo" x="579.8" y="507.3"/><use href="#mo" x="582" y="511.8"/><use href="#mo" x="584.2" y="517.5"/><use href="#mo" x="586.4" y="523.6"/><use href="#mo" x="588.6" y="530"/><use href="#mo" x="590.8" y="536.9"/><use href="#mo" x="593" y="543.6"/><use href="#mo" x="595.2" y="549.6"/><use href="#mo" x="597.4" y="555.4"/><use href="#mo" x="599.6" y="560.2"/><use href="#mo" x="601.8" y="563.6"/><use href="#mo" x="604" y="566"/><use href="#mo" x="606.2" y="567.4"/><use href="#mo" x="608.4" y="568.1"/><use href="#mo" x="610.6" y="568.4"/><use href="#mo" x="612.8" y="568.3"/><use href="#mo" x="615" y="567.9"/><use href="#mo" x="617.2" y="567.5"/><use href="#mo" x="619.4" y="567.2"/><use href="#mo" x="621.6" y="567"/><use href="#mo" x="623.8" y="567.2"/><use href="#mo" x="626" y="567.7"/><use href="#mo" x="628.2" y="568.3"/><use href="#mo" x="630.4" y="569"/><use href="#mo" x="632.6" y="569.9"/><use href="#mo" x="634.8" y="570.8"/><use href="#mo" x="637" y="571.8"/><use href="#mo" x="639.2" y="572.8"/><use href="#mo" x="641.4" y="573.9"/><use href="#mo" x="643.6" y="575.1"/><use href="#mo" x="645.8" y="576.3"/><use href="#mo" x="648" y="577.4"/><use href="#mo" x="650.2" y="578.4"/><use href="#mo" x="652.4" y="579.3"/><use href="#mo" x="654.6" y="580"/><use href="#mo" x="656.8" y="580.6"/><use href="#mo" x="659" y="581.1"/><use href="#mo" x="661.2" y="581.6"/><use href="#mo" x="663.4" y="582"/><use href="#mo" x="665.6" y="582.4"/><use href="#mo" x="667.8" y="582.6"/><use href="#mo" x="670" y="582.9"/><use href="#mo" x="672.2" y="583"/><use href="#mo" x="674.4" y="583.1"/><use href="#mo" x="676.6" y="583.3"/><use href="#mo" x="678.8" y="583.4"/></g>
<path d="M373 585.8h0.01M375.2 585.8h0.01M377.4 585.8h0.01M379.6 585.8h0.01M381.8 585.8h0.01M384 585.8h0.01M386.2 585.8h0.01M388.4 585.7h0.01M390.6 585.7h0.01M392.8 585.6h0.01M395 585.5h0.01M397.2 585.4h0.01M399.4 585.3h0.01M401.6 585.3h0.01M403.8 585.2h0.01M406 585.2h0.01M408.2 585.2h0.01M410.4 585.2h0.01M412.6 585.1h0.01M414.8 584.9h0.01M417 584.5h0.01M419.2 583.8h0.01M421.4 582.9h0.01M423.6 581.5h0.01M425.8 579.8h0.01M428 577.8h0.01M430.2 575.3h0.01M432.4 572.7h0.01M434.6 570h0.01M436.8 567.3h0.01M439 564.5h0.01M441.2 561.6h0.01M443.4 558.9h0.01M445.6 556.4h0.01M447.8 554h0.01M450 551.8h0.01M452.2 549.8h0.01M454.4 547.9h0.01M456.6 546.2h0.01M458.8 544.7h0.01M461 543.5h0.01M463.2 542.6h0.01M465.4 542.2h0.01M467.6 542.4h0.01M469.8 543.5h0.01M472 545.6h0.01M474.2 548.6h0.01M476.4 552h0.01M478.6 555.5h0.01M480.8 559.4h0.01M483 563.1h0.01M485.2 566.3h0.01M487.4 569.4h0.01M489.6 572.1h0.01M491.8 573.8h0.01M494 574.5h0.01M496.2 574.4h0.01M498.4 574h0.01M500.6 573.4h0.01M502.8 572.9h0.01M505 572.6h0.01M507.2 572.3h0.01M509.4 571.9h0.01M511.6 571.5h0.01M513.8 570.8h0.01M516 570h0.01M518.2 568.8h0.01M520.4 567.4h0.01M522.6 566h0.01M524.8 564.6h0.01M527 563.4h0.01M529.2 562.4h0.01M531.4 561.4h0.01M533.6 560.1h0.01M535.8 558.5h0.01M538 556.3h0.01M540.2 553.5h0.01M542.4 550.1h0.01M544.6 546.3h0.01M546.8 542.1h0.01M549 537.3h0.01M551.2 531.8h0.01M553.4 526.5h0.01M555.6 521h0.01M557.8 515.6h0.01M560 511h0.01M562.2 507.6h0.01M564.4 505.1h0.01M566.6 503.1h0.01M568.8 501.7h0.01M571 501.3h0.01M573.2 501.8h0.01M575.4 502.8h0.01M577.6 504.5h0.01M579.8 507.3h0.01M582 511.8h0.01M584.2 517.5h0.01M586.4 523.6h0.01M588.6 530h0.01M590.8 536.9h0.01M593 543.6h0.01M595.2 549.6h0.01M597.4 555.4h0.01M599.6 560.2h0.01M601.8 563.6h0.01M604 566h0.01M606.2 567.4h0.01M608.4 568.1h0.01M610.6 568.4h0.01M612.8 568.3h0.01M615 567.9h0.01M617.2 567.5h0.01M619.4 567.2h0.01M621.6 567h0.01M623.8 567.2h0.01M626 567.7h0.01M628.2 568.3h0.01M630.4 569h0.01M632.6 569.9h0.01M634.8 570.8h0.01M637 571.8h0.01M639.2 572.8h0.01M641.4 573.9h0.01M643.6 575.1h0.01M645.8 576.3h0.01M648 577.4h0.01M650.2 578.4h0.01M652.4 579.3h0.01M654.6 580h0.01M656.8 580.6h0.01M659 581.1h0.01M661.2 581.6h0.01M663.4 582h0.01M665.6 582.4h0.01M667.8 582.6h0.01M670 582.9h0.01M672.2 583h0.01M674.4 583.1h0.01M676.6 583.3h0.01M678.8 583.4h0.01" stroke="#a9bee0" stroke-width="1.6" stroke-linecap="round"/>
<path d="M372 583C373.2 583 376.7 582.5 379 583C381.3 583.5 383.3 586.7 386 586.2C388.7 585.7 391.9 581.8 395.4 579.9C398.9 578 403.5 575.2 407 574.6C410.5 574 413.5 575.1 416.4 576C419.3 576.9 421.9 580.2 424.6 579.9C427.3 579.6 429.8 577 432.7 574.1C435.6 571.2 439 566.1 442.1 562.4C445.2 558.7 448.3 554.7 451.4 551.9C454.5 549.1 458.1 546.6 460.8 545.6C463.5 544.6 465.5 545.1 467.8 546.1C470.1 547.1 472.1 548.8 474.8 551.9C477.5 555 481.4 561.4 484.1 564.7C486.8 568 488.4 570.6 491.1 571.8C493.8 573 497.8 572.1 500.5 571.8C503.2 571.5 504.8 570.1 507.5 569.9C510.2 569.7 513.7 571.5 516.8 570.6C519.9 569.7 523.3 566.3 526.2 564.7C529.1 563.1 531.8 562.8 534.3 561.2C536.8 559.7 539 558.5 541.4 555.4C543.8 552.3 546.1 547.3 548.4 542.6C550.7 537.9 553.1 531.9 555.4 527.4C557.7 522.9 560.1 518.2 562.4 515.7C564.7 513.2 567.1 512 569.4 512.2C571.7 512.4 574.1 514 576.4 516.9C578.7 519.8 581.1 524.8 583.4 529.7C585.7 534.6 588.1 540.7 590.4 546.1C592.7 551.5 594.9 558.1 597.4 562.4C599.9 566.7 602.9 570.4 605.6 571.8C608.3 573.2 610.9 571.1 613.8 570.6C616.7 570.1 619.6 568.6 623.1 569C626.6 569.4 630.9 571.3 634.8 572.9C638.7 574.5 642.2 577 646.5 578.8C650.8 580.5 656.2 582.4 660.5 583.4C664.8 584.4 669.1 584.4 672.2 584.6C675.3 584.8 678 584.6 679.2 584.6" fill="none" stroke="#1a8d97" stroke-width="4" stroke-linecap="round" stroke-linejoin="round"/>
<path d="M371.4 2.7H685 M371.4 2.7V597.5H683.9V2.7" fill="none" stroke="#000" stroke-width="2.2"/>
<path d="M424.1 597.5V590.5 M424.1 2.7V10.2M496.9 597.5V590.5 M496.9 2.7V10.2M569.4 597.5V590.5 M569.4 2.7V10.2M641.8 597.5V590.5 M641.8 2.7V10.2" stroke="#000" stroke-width="2" fill="none"/>
<text x="424.1" y="620.3" font-size="16.2" text-anchor="middle">1</text>
<text x="496.9" y="620.3" font-size="16.2" text-anchor="middle">2</text>
<text x="569.4" y="620.3" font-size="16.2" text-anchor="middle">3</text>
<text x="641.8" y="620.3" font-size="16.2" text-anchor="middle">4</text>
<text x="463.2" y="644.4" font-size="18" textLength="152.3" lengthAdjust="spacingAndGlyphs">Radial distance (Å)</text>
<text transform="translate(363.6 337.5) rotate(-90)" font-size="18.5" textLength="83" lengthAdjust="spacingAndGlyphs">|χ(<tspan font-style="italic">R</tspan>) (Å<tspan font-size="12" dy="-7.5">-3</tspan><tspan dy="7.5">)|</tspan></text>
<text x="351.6" y="15.7" font-size="22.5" font-weight="bold" textLength="10.9" lengthAdjust="spacingAndGlyphs">c</text>
<circle cx="384.5" cy="110.5" r="5.9" fill="#fff" stroke="#f9b987" stroke-width="1.9"/>
<circle cx="384.5" cy="110.5" r="2.2" fill="none" stroke="#f9b987" stroke-width="1.1"/>
<line x1="376.6" y1="127.8" x2="392.8" y2="127.8" stroke="#d95f0e" stroke-width="3.6"/>
<text x="399.6" y="113.9" font-size="13.6" textLength="58.5" lengthAdjust="spacingAndGlyphs">MnCr<tspan font-size="9.5" dy="3">2</tspan><tspan dy="-3">O</tspan><tspan font-size="9.5" dy="3">4</tspan></text>
<text x="398.3" y="134.3" font-size="13.6" textLength="51.2" lengthAdjust="spacingAndGlyphs"><tspan font-style="italic">A</tspan><tspan font-size="9.5" dy="-4.8">5</tspan><tspan dy="4.8">Cr</tspan><tspan font-size="9.5" dy="3">2</tspan><tspan dy="-3">O</tspan><tspan font-size="9.5" dy="3">4</tspan></text>
<circle cx="384.7" cy="228.6" r="5.9" fill="#fff" stroke="#a3c0e2" stroke-width="1.9"/>
<circle cx="384.7" cy="228.6" r="2.2" fill="none" stroke="#a3c0e2" stroke-width="1.1"/>
<line x1="376.6" y1="243.6" x2="392.8" y2="243.6" stroke="#8a55ad" stroke-width="3.6"/>
<text x="399.6" y="233.2" font-size="13.6" textLength="54" lengthAdjust="spacingAndGlyphs">CoCr<tspan font-size="9.5" dy="3">2</tspan><tspan dy="-3">O</tspan><tspan font-size="9.5" dy="3">4</tspan></text>
<text x="398.3" y="250.2" font-size="13.6" textLength="51.2" lengthAdjust="spacingAndGlyphs"><tspan font-style="italic">A</tspan><tspan font-size="9.5" dy="-4.8">5</tspan><tspan dy="4.8">Cr</tspan><tspan font-size="9.5" dy="3">2</tspan><tspan dy="-3">O</tspan><tspan font-size="9.5" dy="3">4</tspan></text>
<circle cx="384.7" cy="313.3" r="5.9" fill="#fff" stroke="#9fdcc8" stroke-width="1.9"/>
<circle cx="384.7" cy="313.3" r="2.2" fill="none" stroke="#9fdcc8" stroke-width="1.1"/>
<line x1="376.6" y1="331.9" x2="392.8" y2="331.9" stroke="#27a25e" stroke-width="3.6"/>
<text x="399.6" y="318.9" font-size="13.6" textLength="51" lengthAdjust="spacingAndGlyphs">NiCr<tspan font-size="9.5" dy="3">2</tspan><tspan dy="-3">O</tspan><tspan font-size="9.5" dy="3">4</tspan></text>
<text x="398.3" y="337.7" font-size="13.6" textLength="51.2" lengthAdjust="spacingAndGlyphs"><tspan font-style="italic">A</tspan><tspan font-size="9.5" dy="-4.8">5</tspan><tspan dy="4.8">Cr</tspan><tspan font-size="9.5" dy="3">2</tspan><tspan dy="-3">O</tspan><tspan font-size="9.5" dy="3">4</tspan></text>
<circle cx="384.2" cy="404.6" r="5.9" fill="#fff" stroke="#f5a3b9" stroke-width="1.9"/>
<circle cx="384.2" cy="404.6" r="2.2" fill="none" stroke="#f5a3b9" stroke-width="1.1"/>
<line x1="376.6" y1="425.9" x2="392.8" y2="425.9" stroke="#c7128c" stroke-width="3.6"/>
<text x="399.6" y="410.1" font-size="13.6" textLength="54" lengthAdjust="spacingAndGlyphs">CuCr<tspan font-size="9.5" dy="3">2</tspan><tspan dy="-3">O</tspan><tspan font-size="9.5" dy="3">4</tspan></text>
<text x="398.3" y="430.9" font-size="13.6" textLength="51.2" lengthAdjust="spacingAndGlyphs"><tspan font-style="italic">A</tspan><tspan font-size="9.5" dy="-4.8">5</tspan><tspan dy="4.8">Cr</tspan><tspan font-size="9.5" dy="3">2</tspan><tspan dy="-3">O</tspan><tspan font-size="9.5" dy="3">4</tspan></text>
<circle cx="384.7" cy="511.5" r="5.9" fill="#fff" stroke="#a9bee0" stroke-width="1.9"/>
<circle cx="384.7" cy="511.5" r="2.2" fill="none" stroke="#a9bee0" stroke-width="1.1"/>
<line x1="376.6" y1="528.5" x2="392.8" y2="528.5" stroke="#1a8d97" stroke-width="3.6"/>
<text x="399.6" y="516.8" font-size="13.6" textLength="54" lengthAdjust="spacingAndGlyphs">ZnCr<tspan font-size="9.5" dy="3">2</tspan><tspan dy="-3">O</tspan><tspan font-size="9.5" dy="3">4</tspan></text>
<text x="398.3" y="534.4" font-size="13.6" textLength="51.2" lengthAdjust="spacingAndGlyphs"><tspan font-style="italic">A</tspan><tspan font-size="9.5" dy="-4.8">5</tspan><tspan dy="4.8">Cr</tspan><tspan font-size="9.5" dy="3">2</tspan><tspan dy="-3">O</tspan><tspan font-size="9.5" dy="3">4</tspan></text>
<text x="632.5" y="139" font-size="17.8" textLength="40.8" lengthAdjust="spacingAndGlyphs">Mn <tspan font-style="italic">K</tspan></text>
<text x="634.8" y="256" font-size="17.8" textLength="37.4" lengthAdjust="spacingAndGlyphs">Co <tspan font-style="italic">K</tspan></text>
<text x="637.1" y="359.9" font-size="17.8" textLength="32.7" lengthAdjust="spacingAndGlyphs">Ni <tspan font-style="italic">K</tspan></text>
<text x="634.8" y="461.2" font-size="17.8" textLength="37.4" lengthAdjust="spacingAndGlyphs">Cu <tspan font-style="italic">K</tspan></text>
<text x="634.8" y="555" font-size="17.8" textLength="36.2" lengthAdjust="spacingAndGlyphs">Zn <tspan font-style="italic">K</tspan></text>
</svg></body></html>
